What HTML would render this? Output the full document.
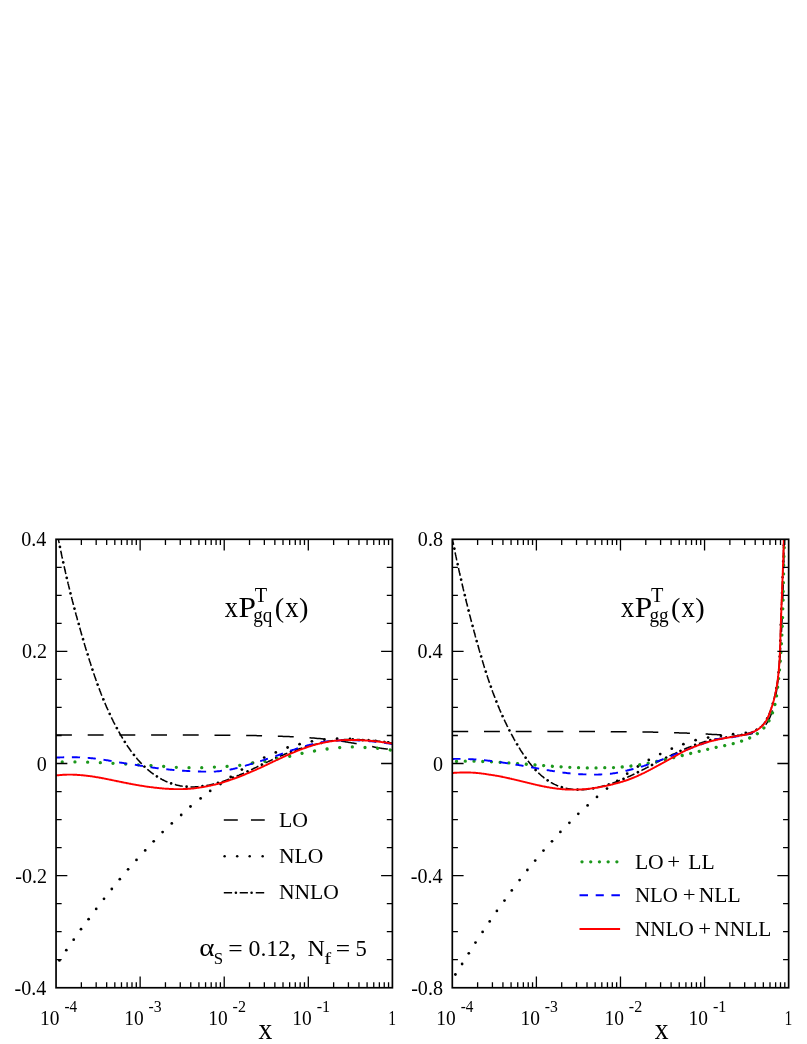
<!DOCTYPE html>
<html><head><meta charset="utf-8"><title>xP(x)</title>
<style>html,body{margin:0;padding:0;background:#fff;}svg{display:block;will-change:transform;}text{font-family:'Liberation Serif', serif;fill:#000;}</style></head><body>
<svg width="807" height="1044" viewBox="0 0 807 1044">
<rect width="807" height="1044" fill="#fff"/>
<defs>
<clipPath id="cl"><rect x="56.05" y="539.3" width="336.35" height="448.45"/></clipPath>
<clipPath id="cr"><rect x="452.3" y="539.3" width="336.35" height="448.45"/></clipPath>
</defs>
<g clip-path="url(#cl)" fill="none">
<path d="M56 735 57 735 58 735 59 735 60 735 61 735 62 735 63 735 64 735 65 735 66 735 67 735 68 735 69 735 70 735 71 735 72 735 73 735 74 735 75 735 76 735 77 735 78 735 79 735 80 735 81 735 82 735 83 735 84 735 85 735 86 735 87 735 88 735 89 735 90 735 91 735 92 735 93 735 94 735 95 735 96 735 97 735 98 735 99 735 100 735 101 735 102 735 103 735 104 735 105 735 106 735 107 735 108 735 109 735 110 735 111 735 112 735 113 735 114 735 115 735 116 735 117 735 118 735 119 735 120 735 121 735 122 735 123 735 124 735 125 735 126 735 127 735 128.1 735 129.1 735 130.1 735 131.1 735 132.1 735 133.1 735 134.1 735 135.1 735 136.1 735 137.1 735 138.1 735 139.1 735 140.1 735 141.1 735 142.1 735 143.1 735 144.1 735 145.1 735 146.1 735 147.1 735 148.1 735 149.1 735 150.1 735 151.1 735 152.1 735 153.1 735 154.1 735 155.1 735 156.1 735 157.1 735 158.1 735 159.1 735 160.1 735 161.1 735 162.1 735 163.1 735 164.1 735 165.1 735 166.1 735 167.1 735 168.1 735 169.1 735 170.1 735 171.1 735 172.1 735 173.1 735 174.1 735 175.1 735 176.1 735.1 177.1 735.1 178.1 735.1 179.1 735.1 180.1 735.1 181.1 735.1 182.1 735.1 183.1 735.1 184.1 735.1 185.1 735.1 186.1 735.1 187.1 735.1 188.1 735.1 189.1 735.1 190.1 735.1 191.1 735.1 192.1 735.1 193.1 735.1 194.1 735.1 195.1 735.1 196.1 735.1 197.1 735.1 198.1 735.1 199.1 735.1 200.1 735.1 201.1 735.1 202.1 735.1 203.1 735.1 204.1 735.1 205.1 735.1 206.1 735.1 207.1 735.2 208.1 735.2 209.1 735.2 210.1 735.2 211.1 735.2 212.1 735.2 213.1 735.2 214.1 735.2 215.1 735.2 216.1 735.2 217.1 735.2 218.1 735.2 219.1 735.2 220.1 735.2 221.1 735.2 222.1 735.2 223.1 735.3 224.1 735.3 225.1 735.3 226.1 735.3 227.1 735.3 228.1 735.3 229.1 735.3 230.1 735.3 231.1 735.3 232.1 735.3 233.1 735.3 234.1 735.3 235.1 735.4 236.1 735.4 237.1 735.4 238.1 735.4 239.1 735.4 240.1 735.4 241.1 735.4 242.1 735.4 243.1 735.4 244.1 735.5 245.1 735.5 246.1 735.5 247.1 735.5 248.1 735.5 249.1 735.5 250.1 735.5 251.1 735.6 252.1 735.6 253.1 735.6 254.1 735.6 255.1 735.6 256.1 735.6 257.1 735.7 258.1 735.7 259.1 735.7 260.1 735.7 261.1 735.7 262.1 735.8 263.1 735.8 264.1 735.8 265.1 735.8 266.1 735.9 267.1 735.9 268.1 735.9 269.1 735.9 270.1 736 271.1 736 272.1 736 273.1 736 274.1 736.1 275.1 736.1 276.1 736.1 277.1 736.2 278.1 736.2 279.1 736.2 280.1 736.3 281.1 736.3 282.1 736.3 283.1 736.4 284.1 736.4 285.1 736.4 286.1 736.5 287.1 736.5 288.1 736.6 289.1 736.6 290.1 736.7 291.1 736.7 292.1 736.7 293.1 736.8 294.1 736.8 295.1 736.9 296.1 736.9 297.1 737 298.1 737 299.1 737.1 300.1 737.2 301.1 737.2 302.1 737.3 303.1 737.3 304.1 737.4 305.1 737.5 306.1 737.5 307.1 737.6 308.1 737.7 309.1 737.7 310.1 737.8 311.1 737.9 312.1 738 313.1 738 314.1 738.1 315.1 738.2 316.1 738.3 317.1 738.4 318.1 738.5 319.1 738.5 320.1 738.6 321.1 738.7 322.1 738.8 323.1 738.9 324.1 739 325.1 739.1 326.1 739.2 327.1 739.3 328.1 739.5 329.1 739.6 330.1 739.7 331.1 739.8 332.1 739.9 333.1 740 334.1 740.2 335.1 740.3 336.1 740.4 337.1 740.6 338.1 740.7 339.1 740.8 340.1 741 341.1 741.1 342.1 741.3 343.1 741.4 344.1 741.6 345.1 741.7 346.1 741.9 347.1 742 348.1 742.2 349.1 742.4 350.1 742.5 351.1 742.7 352.1 742.9 353.1 743 354.1 743.2 355.1 743.4 356.1 743.6 357.1 743.8 358.1 743.9 359.1 744.1 360.1 744.3 361.1 744.5 362.1 744.7 363.1 744.9 364.1 745.1 365.1 745.3 366.1 745.5 367.1 745.7 368.1 745.9 369.1 746.1 370.1 746.3 371.1 746.5 372.1 746.6 373.1 746.8 374.1 747 375.1 747.2 376.1 747.4 377.1 747.6 378.1 747.7 379.1 747.9 380.1 748.1 381.1 748.2 382.1 748.4 383.1 748.5 384.1 748.7 385.1 748.8 386.1 748.9 387.1 749 388.1 749.1 389.1 749.1 390.1 749.2 391.1 749.2 392.1 749.2" stroke="#000" stroke-width="1.5" stroke-dasharray="15.9 15.8"/>
<g fill="#000" stroke="none"><circle cx="59.4" cy="960.4" r="1.38"/><circle cx="66.3" cy="950.2" r="1.38"/><circle cx="73.7" cy="939.7" r="1.38"/><circle cx="81" cy="929.2" r="1.38"/><circle cx="88.6" cy="919.2" r="1.38"/><circle cx="96.2" cy="908.9" r="1.38"/><circle cx="104" cy="898.8" r="1.38"/><circle cx="111.8" cy="889" r="1.38"/><circle cx="119.8" cy="879.2" r="1.38"/><circle cx="128.1" cy="869.3" r="1.38"/><circle cx="136.5" cy="859.9" r="1.38"/><circle cx="145.2" cy="850.4" r="1.38"/><circle cx="153.7" cy="841.3" r="1.38"/><circle cx="162.6" cy="832.1" r="1.38"/><circle cx="171.8" cy="823.4" r="1.38"/><circle cx="181.2" cy="815" r="1.38"/><circle cx="190.5" cy="806.5" r="1.38"/><circle cx="200.6" cy="798.4" r="1.38"/><circle cx="210.2" cy="790.9" r="1.38"/><circle cx="220.5" cy="784" r="1.38"/><circle cx="230.7" cy="777" r="1.38"/><circle cx="241.9" cy="769.6" r="1.38"/><circle cx="253" cy="762.9" r="1.38"/><circle cx="264.2" cy="757.6" r="1.38"/><circle cx="275.8" cy="752.4" r="1.38"/><circle cx="287.6" cy="747.5" r="1.38"/><circle cx="299.6" cy="744.2" r="1.38"/><circle cx="311.9" cy="741.3" r="1.38"/><circle cx="324.4" cy="739.7" r="1.38"/><circle cx="337.1" cy="738.6" r="1.38"/><circle cx="350" cy="739" r="1.38"/><circle cx="362.8" cy="740.2" r="1.38"/><circle cx="375.5" cy="741" r="1.38"/><circle cx="388.2" cy="742.5" r="1.38"/></g>
<path d="M56.1 527 56.2 527.7 56.3 528.4 56.4 529.1 56.6 529.7 56.7 530.4 56.8 531.1 57 531.8 57.1 532.5 57.2 533.2 57.3 533.8 57.5 534.5 57.6 535.2 57.7 535.9 57.9 536.6 58 537.3 58.1 537.9 58.3 538.6 58.4 539.3 58.5 540 58.7 540.7 58.8 541.4 59 542.1 59.1 542.7 59.2 543.4 59.4 544.1 59.5 544.8 59.6 545.5 59.8 546.2 59.9 546.8 60.1 547.5 60.2 548.2 60.3 548.9 60.5 549.6 60.6 550.3 60.8 551 60.9 551.6 61.1 552.3 61.2 553 61.4 553.7 61.5 554.4 61.6 555.1 61.8 555.8 61.9 556.4 62.1 557.1 62.2 557.8 62.4 558.5 62.5 559.2 62.7 559.9 62.8 560.6 63 561.2 63.1 561.9 63.3 562.6 63.4 563.3 63.6 564 63.7 564.7 63.9 565.4 64 566 64.2 566.7 64.4 567.4 64.5 568.1 64.7 568.8 64.8 569.5 65 570.2 65.1 570.8 65.3 571.5 65.4 572.2 65.6 572.9 65.8 573.6 65.9 574.3 66.1 575 66.2 575.6 66.4 576.3 66.6 577 66.7 577.7 66.9 578.4 67 579.1 67.2 579.7 67.4 580.4 67.5 581.1 67.7 581.8 67.9 582.5 68 583.2 68.2 583.9 68.4 584.5 68.5 585.2 68.7 585.9 68.9 586.6 69 587.3 69.2 588 69.4 588.6 69.5 589.3 69.7 590 69.9 590.7 70 591.4 70.2 592.1 70.4 592.7 70.5 593.4 70.7 594.1 70.9 594.8 71.1 595.5 71.2 596.2 71.4 596.8 71.6 597.5 71.7 598.2 71.9 598.9 72.1 599.6 72.3 600.2 72.4 600.9 72.6 601.6 72.8 602.3 73 603 73.2 603.7 73.3 604.3 73.5 605 73.7 605.7 73.9 606.4 74 607.1 74.2 607.7 74.4 608.4 74.6 609.1 74.8 609.8 74.9 610.5 75.1 611.1 75.3 611.8 75.5 612.5 75.7 613.2 75.9 613.9 76 614.5 76.2 615.2 76.4 615.9 76.6 616.6 76.8 617.2 77 617.9 77.2 618.6 77.3 619.3 77.5 620 77.7 620.6 77.9 621.3 78.1 622 78.3 622.7 78.5 623.3 78.7 624 78.8 624.7 79 625.4 79.2 626 79.4 626.7 79.6 627.4 79.8 628.1 80 628.7 80.2 629.4 80.4 630.1 80.6 630.8 80.8 631.4 81 632.1 81.2 632.8 81.3 633.5 81.5 634.1 81.7 634.8 81.9 635.5 82.1 636.1 82.3 636.8 82.5 637.5 82.7 638.2 82.9 638.8 83.1 639.5 83.3 640.2 83.5 640.8 83.7 641.5 83.9 642.2 84.1 642.9 84.3 643.5 84.5 644.2 84.7 644.9 84.9 645.5 85.1 646.2 85.3 646.9 85.5 647.5 85.7 648.2 85.9 648.9 86.1 649.5 86.3 650.2 86.5 650.9 86.7 651.5 86.9 652.2 87.1 652.9 87.3 653.5 87.6 654.2 87.8 654.9 88 655.5 88.2 656.2 88.4 656.9 88.6 657.5 88.8 658.2 89 658.8 89.2 659.5 89.4 660.2 89.6 660.8 89.8 661.5 90.1 662.1 90.3 662.8 90.5 663.5 90.7 664.1 90.9 664.8 91.1 665.5 91.3 666.1 91.5 666.8 91.8 667.4 92 668.1 92.2 668.7 92.4 669.4 92.6 670.1 92.8 670.7 93.1 671.4 93.3 672 93.5 672.7 93.7 673.3 93.9 674 94.2 674.7 94.4 675.3 94.6 676 94.8 676.6 95.1 677.3 95.3 677.9 95.5 678.6 95.8 679.2 96 679.9 96.2 680.5 96.4 681.2 96.7 681.8 96.9 682.5 97.1 683.2 97.4 683.8 97.6 684.5 97.9 685.1 98.1 685.8 98.3 686.4 98.6 687.1 98.8 687.7 99.1 688.4 99.3 689 99.5 689.7 99.8 690.3 100 691 100.3 691.6 100.5 692.2 100.8 692.9 101 693.5 101.3 694.2 101.5 694.8 101.8 695.5 102.1 696.1 102.3 696.8 102.6 697.4 102.8 698.1 103.1 698.7 103.4 699.4 103.6 700 103.9 700.6 104.2 701.3 104.4 701.9 104.7 702.6 105 703.2 105.2 703.9 105.5 704.5 105.8 705.1 106.1 705.8 106.3 706.4 106.6 707.1 106.9 707.7 107.2 708.4 107.5 709 107.8 709.6 108.1 710.3 108.3 710.9 108.6 711.6 108.9 712.2 109.2 712.8 109.5 713.5 109.8 714.1 110.1 714.8 110.4 715.4 110.7 716 111 716.7 111.3 717.3 111.6 717.9 111.9 718.6 112.3 719.2 112.6 719.8 112.9 720.5 113.2 721.1 113.5 721.8 113.8 722.4 114.2 723 114.5 723.7 114.8 724.3 115.1 724.9 115.5 725.6 115.8 726.2 116.1 726.8 116.5 727.5 116.8 728.1 117.2 728.7 117.5 729.4 117.8 730 118.2 730.6 118.5 731.3 118.9 731.9 119.2 732.5 119.6 733.1 119.9 733.8 120.3 734.4 120.7 735 121 735.7 121.4 736.3 121.8 736.9 122.1 737.5 122.5 738.1 122.9 738.8 123.3 739.4 123.6 740 124 740.6 124.4 741.2 124.8 741.8 125.2 742.5 125.6 743.1 125.9 743.7 126.3 744.3 126.7 744.9 127.1 745.5 127.5 746.1 127.9 746.7 128.4 747.3 128.8 747.9 129.2 748.5 129.6 749.1 130 749.6 130.4 750.2 130.8 750.8 131.3 751.4 131.7 752 132.1 752.5 132.6 753.1 133 753.7 133.4 754.3 133.9 754.8 134.3 755.4 134.8 755.9 135.2 756.5 135.6 757 136.1 757.6 136.6 758.1 137 758.7 137.5 759.2 137.9 759.8 138.4 760.3 138.9 760.8 139.3 761.3 139.8 761.9 140.3 762.4 140.8 762.9 141.3 763.4 141.7 763.9 142.2 764.4 142.7 764.9 143.2 765.4 143.7 765.9 144.2 766.4 144.7 766.9 145.2 767.3 145.7 767.8 146.3 768.3 146.8 768.7 147.3 769.2 147.8 769.7 148.3 770.1 148.9 770.6 149.4 771 149.9 771.4 150.5 771.9 151 772.3 151.5 772.7 152.1 773.1 152.6 773.5 153.2 773.9 153.8 774.3 154.3 774.7 154.9 775.1 155.4 775.5 156 775.9 156.6 776.3 157.2 776.6 157.7 777 158.3 777.4 158.9 777.7 159.5 778 160.1 778.4 160.7 778.7 161.3 779 161.9 779.4 162.5 779.7 163.1 780 163.7 780.3 164.3 780.6 164.9 780.9 165.5 781.2 166.2 781.4 166.8 781.7 167.4 782 168 782.2 168.7 782.5 169.3 782.7 169.9 783 170.6 783.2 171.2 783.4 171.9 783.6 172.5 783.9 173.2 784.1 173.8 784.3 174.4 784.5 175.1 784.6 175.8 784.8 176.4 785 177.1 785.2 177.7 785.3 178.4 785.5 179.1 785.6 179.7 785.7 180.4 785.9 181.1 786 181.7 786.1 182.4 786.2 183.1 786.3 183.7 786.4 184.4 786.5 185.1 786.6 185.8 786.6 186.4 786.7 187.1 786.7 187.8 786.8 188.5 786.8 189.2 786.9 189.9 786.9 190.5 786.9 191.2 786.9 191.9 786.9 192.6 786.9 193.3 786.9 194 786.9 194.7 786.9 195.3 786.8 196 786.8 196.7 786.8 197.4 786.7 198.1 786.7 198.8 786.6 199.5 786.5 200.2 786.5 200.9 786.4 201.6 786.3 202.2 786.2 202.9 786.1 203.6 786 204.3 785.9 205 785.8 205.7 785.7 206.4 785.6 207.1 785.5 207.8 785.3 208.5 785.2 209.1 785.1 209.8 784.9 210.5 784.8 211.2 784.6 211.9 784.5 212.6 784.3 213.3 784.1 213.9 784 214.6 783.8 215.3 783.6 216 783.4 216.7 783.2 217.3 783 218 782.8 218.7 782.6 219.4 782.4 220 782.2 220.7 782 221.4 781.8 222.1 781.6 222.7 781.4 223.4 781.2 224.1 780.9 224.7 780.7 225.4 780.5 226.1 780.2 226.7 780 227.4 779.7 228 779.5 228.7 779.3 229.4 779 230 778.8 230.7 778.5 231.3 778.3 232 778 232.7 777.7 233.3 777.5 234 777.2 234.6 777 235.3 776.7 235.9 776.4 236.6 776.2 237.2 775.9 237.9 775.6 238.5 775.4 239.2 775.1 239.8 774.8 240.5 774.5 241.1 774.2 241.8 774 242.4 773.7 243.1 773.4 243.7 773.1 244.4 772.8 245 772.5 245.7 772.2 246.3 771.9 247 771.6 247.6 771.3 248.3 771 248.9 770.7 249.5 770.4 250.2 770.2 250.8 769.9 251.5 769.6 252.1 769.3 252.8 769 253.4 768.6 254 768.3 254.7 768 255.3 767.7 256 767.4 256.6 767.1 257.3 766.8 257.9 766.5 258.5 766.2 259.2 765.9 259.8 765.6 260.5 765.3 261.1 765 261.7 764.7 262.4 764.4 263 764.1 263.7 763.7 264.3 763.4 264.9 763.1 265.6 762.8 266.2 762.5 266.9 762.2 267.5 761.9 268.2 761.6 268.8 761.3 269.4 761 270.1 760.7 270.7 760.4 271.4 760.1 272 759.8 272.7 759.5 273.3 759.2 274 758.9 274.6 758.6 275.2 758.3 275.9 758 276.5 757.7 277.2 757.4 277.8 757.1 278.5 756.9 279.1 756.6 279.8 756.3 280.4 756 281.1 755.7 281.7 755.5 282.4 755.2 283 754.9 283.7 754.7 284.3 754.4 285 754.1 285.6 753.9 286.3 753.6 286.9 753.4 287.6 753.1 288.3 752.8 288.9 752.6 289.6 752.3 290.2 752.1 290.9 751.8 291.5 751.6 292.2 751.4 292.8 751.1 293.5 750.9 294.2 750.6 294.8 750.4 295.5 750.2 296.1 749.9 296.8 749.7 297.5 749.5 298.1 749.3 298.8 749.1 299.4 748.8 300.1 748.6 300.8 748.4 301.4 748.2 302.1 748 302.8 747.8 303.4 747.6 304.1 747.4 304.7 747.2 305.4 747 306.1 746.8 306.7 746.6 307.4 746.4 308.1 746.2 308.7 746 309.4 745.8 310.1 745.7 310.7 745.5 311.4 745.3 312.1 745.1 312.8 745 313.4 744.8 314.1 744.6 314.8 744.5 315.4 744.3 316.1 744.2 316.8 744 317.5 743.9 318.2 743.8 318.9 743.6 319.5 743.5 320.2 743.3 320.9 743.1 321.6 742.9 322.2 742.7 322.9 742.5 323.6 742.4 324.3 742.2 324.9 742 325.6 741.9 326.3 741.7 327 741.5 327.6 741.4 328.3 741.3 329 741.2 329.7 741 330.4 740.9 331.1 740.8 331.7 740.7 332.4 740.7 333.1 740.6 333.8 740.5 334.5 740.4 335.2 740.3 335.9 740.2 336.5 740.2 337.2 740.1 337.9 740 338.6 740 339.3 739.9 340 739.9 340.7 739.8 341.4 739.8 342.1 739.7 342.8 739.7 343.5 739.7 344.2 739.6 344.8 739.6 345.5 739.6 346.2 739.5 346.9 739.5 347.6 739.5 348.3 739.5 349 739.5 349.7 739.5 350.4 739.5 351.1 739.4 351.8 739.4 352.5 739.4 353.2 739.5 353.9 739.5 354.6 739.5 355.3 739.5 356 739.5 356.7 739.5 357.4 739.5 358.1 739.6 358.8 739.6 359.5 739.6 360.2 739.7 360.9 739.7 361.6 739.7 362.3 739.8 363 739.8 363.7 739.9 364.4 739.9 365.1 740 365.8 740 366.5 740.1 367.2 740.1 367.9 740.2 368.6 740.2 369.3 740.3 370 740.3 370.7 740.4 371.4 740.4 372.1 740.5 372.8 740.6 373.5 740.6 374.2 740.7 374.9 740.8 375.6 740.9 376.3 740.9 377 741 377.7 741.1 378.4 741.2 379.1 741.3 379.8 741.3 380.5 741.4 381.2 741.5 381.9 741.6 382.6 741.7 383.3 741.8 384 741.9 384.7 742 385.4 742.1 386.1 742.2 386.8 742.3 387.5 742.4 388.2 742.5 388.9 742.6 389.6 742.7 390.3 742.8 391 742.9 391.7 743.1 392.4 743.2" stroke="#000" stroke-width="1.55" stroke-dasharray="8.1 7.8" stroke-dashoffset="7.61"/>
<path d="M56.1 527 56.2 527.7 56.3 528.4 56.4 529.1 56.6 529.7 56.7 530.4 56.8 531.1 57 531.8 57.1 532.5 57.2 533.2 57.3 533.8 57.5 534.5 57.6 535.2 57.7 535.9 57.9 536.6 58 537.3 58.1 537.9 58.3 538.6 58.4 539.3 58.5 540 58.7 540.7 58.8 541.4 59 542.1 59.1 542.7 59.2 543.4 59.4 544.1 59.5 544.8 59.6 545.5 59.8 546.2 59.9 546.8 60.1 547.5 60.2 548.2 60.3 548.9 60.5 549.6 60.6 550.3 60.8 551 60.9 551.6 61.1 552.3 61.2 553 61.4 553.7 61.5 554.4 61.6 555.1 61.8 555.8 61.9 556.4 62.1 557.1 62.2 557.8 62.4 558.5 62.5 559.2 62.7 559.9 62.8 560.6 63 561.2 63.1 561.9 63.3 562.6 63.4 563.3 63.6 564 63.7 564.7 63.9 565.4 64 566 64.2 566.7 64.4 567.4 64.5 568.1 64.7 568.8 64.8 569.5 65 570.2 65.1 570.8 65.3 571.5 65.4 572.2 65.6 572.9 65.8 573.6 65.9 574.3 66.1 575 66.2 575.6 66.4 576.3 66.6 577 66.7 577.7 66.9 578.4 67 579.1 67.2 579.7 67.4 580.4 67.5 581.1 67.7 581.8 67.9 582.5 68 583.2 68.2 583.9 68.4 584.5 68.5 585.2 68.7 585.9 68.9 586.6 69 587.3 69.2 588 69.4 588.6 69.5 589.3 69.7 590 69.9 590.7 70 591.4 70.2 592.1 70.4 592.7 70.5 593.4 70.7 594.1 70.9 594.8 71.1 595.5 71.2 596.2 71.4 596.8 71.6 597.5 71.7 598.2 71.9 598.9 72.1 599.6 72.3 600.2 72.4 600.9 72.6 601.6 72.8 602.3 73 603 73.2 603.7 73.3 604.3 73.5 605 73.7 605.7 73.9 606.4 74 607.1 74.2 607.7 74.4 608.4 74.6 609.1 74.8 609.8 74.9 610.5 75.1 611.1 75.3 611.8 75.5 612.5 75.7 613.2 75.9 613.9 76 614.5 76.2 615.2 76.4 615.9 76.6 616.6 76.8 617.2 77 617.9 77.2 618.6 77.3 619.3 77.5 620 77.7 620.6 77.9 621.3 78.1 622 78.3 622.7 78.5 623.3 78.7 624 78.8 624.7 79 625.4 79.2 626 79.4 626.7 79.6 627.4 79.8 628.1 80 628.7 80.2 629.4 80.4 630.1 80.6 630.8 80.8 631.4 81 632.1 81.2 632.8 81.3 633.5 81.5 634.1 81.7 634.8 81.9 635.5 82.1 636.1 82.3 636.8 82.5 637.5 82.7 638.2 82.9 638.8 83.1 639.5 83.3 640.2 83.5 640.8 83.7 641.5 83.9 642.2 84.1 642.9 84.3 643.5 84.5 644.2 84.7 644.9 84.9 645.5 85.1 646.2 85.3 646.9 85.5 647.5 85.7 648.2 85.9 648.9 86.1 649.5 86.3 650.2 86.5 650.9 86.7 651.5 86.9 652.2 87.1 652.9 87.3 653.5 87.6 654.2 87.8 654.9 88 655.5 88.2 656.2 88.4 656.9 88.6 657.5 88.8 658.2 89 658.8 89.2 659.5 89.4 660.2 89.6 660.8 89.8 661.5 90.1 662.1 90.3 662.8 90.5 663.5 90.7 664.1 90.9 664.8 91.1 665.5 91.3 666.1 91.5 666.8 91.8 667.4 92 668.1 92.2 668.7 92.4 669.4 92.6 670.1 92.8 670.7 93.1 671.4 93.3 672 93.5 672.7 93.7 673.3 93.9 674 94.2 674.7 94.4 675.3 94.6 676 94.8 676.6 95.1 677.3 95.3 677.9 95.5 678.6 95.8 679.2 96 679.9 96.2 680.5 96.4 681.2 96.7 681.8 96.9 682.5 97.1 683.2 97.4 683.8 97.6 684.5 97.9 685.1 98.1 685.8 98.3 686.4 98.6 687.1 98.8 687.7 99.1 688.4 99.3 689 99.5 689.7 99.8 690.3 100 691 100.3 691.6 100.5 692.2 100.8 692.9 101 693.5 101.3 694.2 101.5 694.8 101.8 695.5 102.1 696.1 102.3 696.8 102.6 697.4 102.8 698.1 103.1 698.7 103.4 699.4 103.6 700 103.9 700.6 104.2 701.3 104.4 701.9 104.7 702.6 105 703.2 105.2 703.9 105.5 704.5 105.8 705.1 106.1 705.8 106.3 706.4 106.6 707.1 106.9 707.7 107.2 708.4 107.5 709 107.8 709.6 108.1 710.3 108.3 710.9 108.6 711.6 108.9 712.2 109.2 712.8 109.5 713.5 109.8 714.1 110.1 714.8 110.4 715.4 110.7 716 111 716.7 111.3 717.3 111.6 717.9 111.9 718.6 112.3 719.2 112.6 719.8 112.9 720.5 113.2 721.1 113.5 721.8 113.8 722.4 114.2 723 114.5 723.7 114.8 724.3 115.1 724.9 115.5 725.6 115.8 726.2 116.1 726.8 116.5 727.5 116.8 728.1 117.2 728.7 117.5 729.4 117.8 730 118.2 730.6 118.5 731.3 118.9 731.9 119.2 732.5 119.6 733.1 119.9 733.8 120.3 734.4 120.7 735 121 735.7 121.4 736.3 121.8 736.9 122.1 737.5 122.5 738.1 122.9 738.8 123.3 739.4 123.6 740 124 740.6 124.4 741.2 124.8 741.8 125.2 742.5 125.6 743.1 125.9 743.7 126.3 744.3 126.7 744.9 127.1 745.5 127.5 746.1 127.9 746.7 128.4 747.3 128.8 747.9 129.2 748.5 129.6 749.1 130 749.6 130.4 750.2 130.8 750.8 131.3 751.4 131.7 752 132.1 752.5 132.6 753.1 133 753.7 133.4 754.3 133.9 754.8 134.3 755.4 134.8 755.9 135.2 756.5 135.6 757 136.1 757.6 136.6 758.1 137 758.7 137.5 759.2 137.9 759.8 138.4 760.3 138.9 760.8 139.3 761.3 139.8 761.9 140.3 762.4 140.8 762.9 141.3 763.4 141.7 763.9 142.2 764.4 142.7 764.9 143.2 765.4 143.7 765.9 144.2 766.4 144.7 766.9 145.2 767.3 145.7 767.8 146.3 768.3 146.8 768.7 147.3 769.2 147.8 769.7 148.3 770.1 148.9 770.6 149.4 771 149.9 771.4 150.5 771.9 151 772.3 151.5 772.7 152.1 773.1 152.6 773.5 153.2 773.9 153.8 774.3 154.3 774.7 154.9 775.1 155.4 775.5 156 775.9 156.6 776.3 157.2 776.6 157.7 777 158.3 777.4 158.9 777.7 159.5 778 160.1 778.4 160.7 778.7 161.3 779 161.9 779.4 162.5 779.7 163.1 780 163.7 780.3 164.3 780.6 164.9 780.9 165.5 781.2 166.2 781.4 166.8 781.7 167.4 782 168 782.2 168.7 782.5 169.3 782.7 169.9 783 170.6 783.2 171.2 783.4 171.9 783.6 172.5 783.9 173.2 784.1 173.8 784.3 174.4 784.5 175.1 784.6 175.8 784.8 176.4 785 177.1 785.2 177.7 785.3 178.4 785.5 179.1 785.6 179.7 785.7 180.4 785.9 181.1 786 181.7 786.1 182.4 786.2 183.1 786.3 183.7 786.4 184.4 786.5 185.1 786.6 185.8 786.6 186.4 786.7 187.1 786.7 187.8 786.8 188.5 786.8 189.2 786.9 189.9 786.9 190.5 786.9 191.2 786.9 191.9 786.9 192.6 786.9 193.3 786.9 194 786.9 194.7 786.9 195.3 786.8 196 786.8 196.7 786.8 197.4 786.7 198.1 786.7 198.8 786.6 199.5 786.5 200.2 786.5 200.9 786.4 201.6 786.3 202.2 786.2 202.9 786.1 203.6 786 204.3 785.9 205 785.8 205.7 785.7 206.4 785.6 207.1 785.5 207.8 785.3 208.5 785.2 209.1 785.1 209.8 784.9 210.5 784.8 211.2 784.6 211.9 784.5 212.6 784.3 213.3 784.1 213.9 784 214.6 783.8 215.3 783.6 216 783.4 216.7 783.2 217.3 783 218 782.8 218.7 782.6 219.4 782.4 220 782.2 220.7 782 221.4 781.8 222.1 781.6 222.7 781.4 223.4 781.2 224.1 780.9 224.7 780.7 225.4 780.5 226.1 780.2 226.7 780 227.4 779.7 228 779.5 228.7 779.3 229.4 779 230 778.8 230.7 778.5 231.3 778.3 232 778 232.7 777.7 233.3 777.5 234 777.2 234.6 777 235.3 776.7 235.9 776.4 236.6 776.2 237.2 775.9 237.9 775.6 238.5 775.4 239.2 775.1 239.8 774.8 240.5 774.5 241.1 774.2 241.8 774 242.4 773.7 243.1 773.4 243.7 773.1 244.4 772.8 245 772.5 245.7 772.2 246.3 771.9 247 771.6 247.6 771.3 248.3 771 248.9 770.7 249.5 770.4 250.2 770.2 250.8 769.9 251.5 769.6 252.1 769.3 252.8 769 253.4 768.6 254 768.3 254.7 768 255.3 767.7 256 767.4 256.6 767.1 257.3 766.8 257.9 766.5 258.5 766.2 259.2 765.9 259.8 765.6 260.5 765.3 261.1 765 261.7 764.7 262.4 764.4 263 764.1 263.7 763.7 264.3 763.4 264.9 763.1 265.6 762.8 266.2 762.5 266.9 762.2 267.5 761.9 268.2 761.6 268.8 761.3 269.4 761 270.1 760.7 270.7 760.4 271.4 760.1 272 759.8 272.7 759.5 273.3 759.2 274 758.9 274.6 758.6 275.2 758.3 275.9 758 276.5 757.7 277.2 757.4 277.8 757.1 278.5 756.9 279.1 756.6 279.8 756.3 280.4 756 281.1 755.7 281.7 755.5 282.4 755.2 283 754.9 283.7 754.7 284.3 754.4 285 754.1 285.6 753.9 286.3 753.6 286.9 753.4 287.6 753.1 288.3 752.8 288.9 752.6 289.6 752.3 290.2 752.1 290.9 751.8 291.5 751.6 292.2 751.4 292.8 751.1 293.5 750.9 294.2 750.6 294.8 750.4 295.5 750.2 296.1 749.9 296.8 749.7 297.5 749.5 298.1 749.3 298.8 749.1 299.4 748.8 300.1 748.6 300.8 748.4 301.4 748.2 302.1 748 302.8 747.8 303.4 747.6 304.1 747.4 304.7 747.2 305.4 747 306.1 746.8 306.7 746.6 307.4 746.4 308.1 746.2 308.7 746 309.4 745.8 310.1 745.7 310.7 745.5 311.4 745.3 312.1 745.1 312.8 745 313.4 744.8 314.1 744.6 314.8 744.5 315.4 744.3 316.1 744.2 316.8 744 317.5 743.9 318.2 743.8 318.9 743.6 319.5 743.5 320.2 743.3 320.9 743.1 321.6 742.9 322.2 742.7 322.9 742.5 323.6 742.4 324.3 742.2 324.9 742 325.6 741.9 326.3 741.7 327 741.5 327.6 741.4 328.3 741.3 329 741.2 329.7 741 330.4 740.9 331.1 740.8 331.7 740.7 332.4 740.7 333.1 740.6 333.8 740.5 334.5 740.4 335.2 740.3 335.9 740.2 336.5 740.2 337.2 740.1 337.9 740 338.6 740 339.3 739.9 340 739.9 340.7 739.8 341.4 739.8 342.1 739.7 342.8 739.7 343.5 739.7 344.2 739.6 344.8 739.6 345.5 739.6 346.2 739.5 346.9 739.5 347.6 739.5 348.3 739.5 349 739.5 349.7 739.5 350.4 739.5 351.1 739.4 351.8 739.4 352.5 739.4 353.2 739.5 353.9 739.5 354.6 739.5 355.3 739.5 356 739.5 356.7 739.5 357.4 739.5 358.1 739.6 358.8 739.6 359.5 739.6 360.2 739.7 360.9 739.7 361.6 739.7 362.3 739.8 363 739.8 363.7 739.9 364.4 739.9 365.1 740 365.8 740 366.5 740.1 367.2 740.1 367.9 740.2 368.6 740.2 369.3 740.3 370 740.3 370.7 740.4 371.4 740.4 372.1 740.5 372.8 740.6 373.5 740.6 374.2 740.7 374.9 740.8 375.6 740.9 376.3 740.9 377 741 377.7 741.1 378.4 741.2 379.1 741.3 379.8 741.3 380.5 741.4 381.2 741.5 381.9 741.6 382.6 741.7 383.3 741.8 384 741.9 384.7 742 385.4 742.1 386.1 742.2 386.8 742.3 387.5 742.4 388.2 742.5 388.9 742.6 389.6 742.7 390.3 742.8 391 742.9 391.7 743.1 392.4 743.2" stroke="#000" stroke-width="2.7" stroke-linecap="round" stroke-dasharray="0.01 15.89" stroke-dashoffset="11.51"/>
<path d="M56 762 56.7 762 57.4 762 58.1 762 58.9 761.9 59.6 761.9 60.3 761.9 61 761.9 61.7 761.9 62.4 761.9 63.1 761.9 63.8 761.9 64.5 761.9 65.2 761.9 65.9 761.9 66.6 761.9 67.3 761.9 68 761.9 68.7 761.9 69.4 761.9 70.1 761.9 70.8 761.9 71.5 761.9 72.2 761.9 72.9 761.9 73.6 761.9 74.3 761.9 75 761.9 75.7 761.9 76.5 762 77.2 762 77.9 762 78.6 762 79.3 762 80 762 80.7 762 81.4 762.1 82.1 762.1 82.8 762.1 83.5 762.1 84.2 762.1 84.9 762.1 85.6 762.2 86.3 762.2 87 762.2 87.7 762.2 88.4 762.3 89.1 762.3 89.8 762.3 90.5 762.3 91.2 762.3 91.9 762.4 92.6 762.4 93.3 762.4 94 762.5 94.7 762.5 95.4 762.5 96.1 762.5 96.8 762.6 97.5 762.6 98.2 762.6 98.9 762.7 99.6 762.7 100.3 762.7 101 762.7 101.7 762.8 102.4 762.8 103.1 762.8 103.8 762.9 104.5 762.9 105.2 762.9 105.9 763 106.6 763 107.3 763.1 108 763.1 108.7 763.1 109.4 763.2 110.1 763.2 110.8 763.2 111.5 763.3 112.2 763.3 112.9 763.3 113.6 763.4 114.3 763.4 115 763.5 115.7 763.5 116.4 763.5 117.1 763.6 117.8 763.6 118.5 763.7 119.2 763.7 119.9 763.7 120.6 763.8 121.3 763.8 122 763.9 122.7 763.9 123.4 763.9 124.1 764 124.8 764 125.5 764.1 126.2 764.1 126.9 764.1 127.6 764.2 128.3 764.2 129 764.3 129.7 764.3 130.4 764.3 131.1 764.4 131.8 764.4 132.5 764.5 133.2 764.5 133.9 764.5 134.6 764.6 135.3 764.6 136 764.7 136.7 764.7 137.4 764.8 138.1 764.8 138.8 764.8 139.5 764.9 140.2 764.9 140.9 765 141.6 765 142.3 765 143 765.1 143.7 765.1 144.4 765.2 145.1 765.2 145.8 765.2 146.5 765.3 147.2 765.3 147.9 765.3 148.6 765.4 149.3 765.4 150 765.5 150.7 765.5 151.4 765.6 152.1 765.6 152.8 765.7 153.5 765.7 154.2 765.8 154.9 765.8 155.6 765.9 156.3 765.9 156.9 766 157.6 766 158.3 766.1 159 766.1 159.7 766.2 160.4 766.2 161.1 766.3 161.8 766.3 162.5 766.4 163.2 766.4 163.9 766.5 164.6 766.5 165.3 766.6 166 766.6 166.7 766.7 167.4 766.7 168.1 766.8 168.8 766.8 169.5 766.9 170.2 766.9 170.9 767 171.6 767 172.3 767.1 173 767.1 173.7 767.2 174.4 767.2 175.1 767.3 175.8 767.3 176.5 767.3 177.2 767.4 177.8 767.4 178.5 767.4 179.2 767.4 179.9 767.4 180.6 767.5 181.3 767.5 182 767.5 182.7 767.5 183.4 767.5 184.1 767.6 184.8 767.6 185.5 767.6 186.2 767.6 186.9 767.6 187.6 767.6 188.3 767.6 189 767.7 189.7 767.7 190.4 767.7 191.1 767.7 191.8 767.7 192.5 767.7 193.2 767.7 193.8 767.7 194.5 767.7 195.2 767.7 195.9 767.7 196.6 767.7 197.3 767.7 198 767.7 198.7 767.7 199.4 767.7 200.1 767.7 200.8 767.7 201.5 767.7 202.2 767.7 202.9 767.7 203.6 767.6 204.3 767.6 205 767.6 205.7 767.6 206.4 767.5 207.1 767.5 207.8 767.5 208.4 767.4 209.1 767.4 209.8 767.4 210.5 767.3 211.2 767.3 211.9 767.2 212.6 767.2 213.3 767.2 214 767.1 214.7 767.1 215.4 767.1 216.1 767 216.8 767 217.5 767 218.2 766.9 218.9 766.9 219.6 766.9 220.3 766.8 220.9 766.8 221.6 766.8 222.3 766.7 223 766.7 223.7 766.6 224.4 766.6 225.1 766.6 225.8 766.5 226.5 766.5 227.2 766.4 227.9 766.4 228.6 766.3 229.3 766.3 230 766.2 230.7 766.1 231.4 766.1 232.1 766 232.8 766 233.4 765.9 234.1 765.8 234.8 765.8 235.5 765.7 236.2 765.6 236.9 765.6 237.6 765.5 238.3 765.4 239 765.4 239.7 765.3 240.4 765.2 241.1 765.1 241.8 765 242.5 764.9 243.2 764.8 243.9 764.7 244.5 764.5 245.2 764.4 245.9 764.3 246.6 764.2 247.3 764.1 248 764 248.7 763.8 249.4 763.7 250.1 763.6 250.8 763.4 251.5 763.3 252.2 763.2 252.9 763.1 253.6 763 254.3 762.9 255 762.8 255.6 762.7 256.3 762.6 257 762.5 257.7 762.5 258.4 762.4 259.1 762.2 259.8 762.1 260.5 762 261.2 761.9 261.9 761.8 262.6 761.7 263.3 761.6 264 761.5 264.7 761.4 265.4 761.3 266.1 761.1 266.7 761 267.4 760.9 268.1 760.7 268.8 760.6 269.5 760.5 270.2 760.3 270.9 760.2 271.6 760.1 272.3 759.9 273 759.8 273.7 759.7 274.4 759.5 275.1 759.4 275.8 759.2 276.5 759.1 277.1 758.9 277.8 758.8 278.5 758.7 279.2 758.5 279.9 758.4 280.6 758.2 281.3 758.1 282 757.9 282.7 757.8 283.4 757.7 284.1 757.5 284.8 757.4 285.5 757.2 286.2 757.1 286.9 756.9 287.6 756.8 288.2 756.6 288.9 756.5 289.6 756.3 290.3 756.2 291 756 291.7 755.8 292.4 755.7 293.1 755.5 293.8 755.3 294.5 755.2 295.2 755 295.9 754.8 296.6 754.7 297.3 754.5 298 754.3 298.6 754.2 299.3 754 300 753.9 300.7 753.7 301.4 753.6 302.1 753.4 302.8 753.3 303.5 753.2 304.2 753 304.9 752.9 305.6 752.7 306.3 752.6 307 752.5 307.7 752.3 308.4 752.2 309 752.1 309.7 751.9 310.4 751.8 311.1 751.7 311.8 751.5 312.5 751.4 313.2 751.3 313.9 751.2 314.6 751 315.3 750.9 316 750.8 316.7 750.7 317.4 750.5 318.1 750.4 318.8 750.3 319.5 750.2 320.1 750.1 320.8 750 321.5 749.9 322.2 749.7 322.9 749.6 323.6 749.5 324.3 749.4 325 749.3 325.7 749.2 326.4 749.1 327.1 749 327.8 748.9 328.5 748.8 329.2 748.7 329.9 748.6 330.6 748.6 331.2 748.5 331.9 748.4 332.6 748.3 333.3 748.2 334 748.1 334.7 748.1 335.4 748 336.1 747.9 336.8 747.8 337.5 747.8 338.2 747.7 338.9 747.6 339.6 747.6 340.3 747.5 341 747.4 341.7 747.4 342.3 747.3 343 747.3 343.7 747.2 344.4 747.2 345.1 747.1 345.8 747.1 346.5 747 347.2 747 347.9 747 348.6 746.9 349.3 746.9 350 746.8 350.7 746.9 351.4 746.9 352.1 746.9 352.8 746.9 353.5 746.9 354.2 746.9 354.8 746.9 355.5 747 356.2 747 356.9 747 357.6 747 358.3 747.1 359 747.1 359.7 747.1 360.4 747.2 361.1 747.2 361.8 747.3 362.5 747.3 363.2 747.4 363.9 747.4 364.6 747.5 365.3 747.5 366 747.5 366.7 747.6 367.3 747.6 368 747.6 368.7 747.6 369.4 747.7 370.1 747.7 370.8 747.7 371.5 747.8 372.2 747.8 372.9 747.9 373.6 747.9 374.3 748 375 748 375.7 748.1 376.4 748.2 377.1 748.2 377.8 748.3 378.5 748.4 379.2 748.4 379.9 748.5 380.6 748.6 381.2 748.7 381.9 748.7 382.6 748.8 383.3 748.9 384 749 384.7 749.1 385.4 749.2 386.1 749.3 386.8 749.4 387.5 749.5 388.2 749.6 388.9 749.7 389.6 749.8 390.3 750 391 750.1 391.7 750.2 392.4 750.3" stroke="#1c981c" stroke-width="3.3" stroke-linecap="round" stroke-dasharray="0.01 12.71" stroke-dashoffset="6.49"/>
<path d="M56 757.6 56.7 757.6 57.4 757.5 58.1 757.5 58.8 757.5 59.6 757.5 60.3 757.4 61 757.4 61.7 757.4 62.4 757.4 63.1 757.4 63.8 757.3 64.5 757.3 65.2 757.3 65.9 757.3 66.6 757.3 67.3 757.3 68 757.3 68.7 757.3 69.4 757.3 70.1 757.2 70.8 757.2 71.5 757.3 72.2 757.3 72.9 757.3 73.6 757.3 74.3 757.3 75 757.3 75.7 757.3 76.4 757.3 77.1 757.3 77.8 757.4 78.5 757.4 79.2 757.4 79.9 757.4 80.6 757.5 81.3 757.5 82 757.5 82.7 757.6 83.4 757.6 84.1 757.6 84.8 757.7 85.5 757.7 86.2 757.8 86.9 757.8 87.6 757.9 88.3 757.9 89 758 89.7 758 90.4 758.1 91.1 758.2 91.8 758.2 92.5 758.3 93.2 758.4 93.9 758.5 94.6 758.5 95.3 758.6 96 758.7 96.7 758.8 97.4 758.9 98.1 759 98.8 759.1 99.5 759.2 100.2 759.3 100.9 759.3 101.6 759.4 102.3 759.6 103 759.7 103.7 759.8 104.4 759.9 105.1 760 105.8 760.1 106.5 760.2 107.2 760.3 107.9 760.4 108.6 760.5 109.2 760.7 109.9 760.8 110.6 760.9 111.3 761 112 761.1 112.7 761.3 113.4 761.4 114.1 761.5 114.8 761.6 115.5 761.7 116.2 761.9 116.9 762 117.6 762.1 118.3 762.3 119 762.4 119.7 762.5 120.4 762.6 121.1 762.7 121.8 762.8 122.5 762.9 123.2 763 123.9 763.1 124.6 763.3 125.3 763.4 126 763.5 126.7 763.6 127.4 763.7 128.1 763.8 128.7 763.9 129.4 764 130.1 764.1 130.8 764.2 131.5 764.3 132.2 764.4 132.9 764.5 133.6 764.6 134.3 764.7 135 764.8 135.7 764.9 136.4 765 137.1 765.1 137.8 765.2 138.5 765.3 139.2 765.5 139.9 765.6 140.6 765.7 141.3 765.8 141.9 765.9 142.6 766 143.3 766.1 144 766.2 144.7 766.3 145.4 766.5 146.1 766.6 146.8 766.7 147.5 766.8 148.2 766.9 148.9 767 149.6 767.1 150.3 767.2 151 767.3 151.7 767.4 152.3 767.5 153 767.6 153.7 767.7 154.4 767.8 155.1 767.9 155.8 768 156.5 768.1 157.2 768.2 157.9 768.2 158.6 768.3 159.3 768.4 160 768.5 160.6 768.6 161.3 768.7 162 768.8 162.7 768.8 163.4 768.9 164.1 769 164.8 769.1 165.5 769.2 166.2 769.2 166.9 769.3 167.6 769.4 168.2 769.5 168.9 769.5 169.6 769.6 170.3 769.7 171 769.7 171.7 769.8 172.4 769.9 173.1 770 173.8 770 174.5 770.1 175.1 770.1 175.8 770.2 176.5 770.3 177.2 770.3 177.9 770.4 178.6 770.4 179.3 770.5 180 770.5 180.7 770.6 181.3 770.6 182 770.7 182.7 770.7 183.4 770.8 184.1 770.8 184.8 770.9 185.5 770.9 186.2 770.9 186.9 771 187.5 771 188.2 771 188.9 771 189.6 771.1 190.3 771.1 191 771.1 191.7 771.2 192.4 771.2 193 771.3 193.7 771.3 194.4 771.3 195.1 771.4 195.8 771.4 196.5 771.4 197.2 771.5 197.8 771.5 198.5 771.5 199.2 771.5 199.9 771.5 200.6 771.5 201.3 771.6 202 771.6 202.6 771.6 203.3 771.6 204 771.6 204.7 771.6 205.4 771.6 206.1 771.6 206.8 771.6 207.4 771.6 208.1 771.7 208.8 771.7 209.5 771.7 210.2 771.7 210.9 771.7 211.6 771.7 212.2 771.7 212.9 771.7 213.6 771.7 214.3 771.6 215 771.6 215.7 771.5 216.3 771.4 217 771.4 217.7 771.3 218.4 771.2 219.1 771.2 219.8 771.1 220.4 771 221.1 770.9 221.8 770.8 222.5 770.8 223.2 770.7 223.9 770.6 224.5 770.5 225.2 770.4 225.9 770.3 226.6 770.2 227.3 770 227.9 769.9 228.6 769.8 229.3 769.7 230 769.6 230.7 769.5 231.3 769.3 232 769.2 232.7 769.1 233.4 768.9 234.1 768.7 234.8 768.6 235.4 768.4 236.1 768.2 236.8 768.1 237.5 767.9 238.2 767.7 238.8 767.5 239.5 767.3 240.2 767.2 240.9 767 241.6 766.8 242.2 766.6 242.9 766.4 243.6 766.2 244.3 766 245 765.8 245.6 765.6 246.3 765.4 247 765.2 247.7 765 248.3 764.8 249 764.6 249.7 764.4 250.4 764.2 251.1 764 251.7 763.8 252.4 763.6 253.1 763.4 253.8 763.2 254.5 763 255.1 762.8 255.8 762.5 256.5 762.3 257.2 762.1 257.8 761.9 258.5 761.7 259.2 761.5 259.9 761.2 260.6 761 261.2 760.8 261.9 760.6 262.6 760.4 263.3 760.1 264 759.9 264.6 759.7 265.3 759.5 266 759.3 266.7 759 267.3 758.8 268 758.6 268.7 758.4 269.4 758.1 270.1 757.9 270.7 757.7 271.4 757.5 272.1 757.3 272.8 757 273.4 756.8 274.1 756.6 274.8 756.4 275.5 756.1 276.2 755.9 276.8 755.7 277.5 755.5 278.2 755.2 278.9 755 279.5 754.7 280.2 754.5 280.9 754.2 281.6 754 282.3 753.7 282.9 753.5 283.6 753.2 284.3 753 285 752.7 285.7 752.5 286.3 752.2 287 752 287.7 751.7 288.4 751.5 289 751.2 289.7 751 290.4 750.7 291.1 750.5 291.8 750.3 292.4 750 293.1 749.8 293.8 749.6 294.5 749.3 295.2 749.1 295.8 748.9 296.5 748.7 297.2 748.4 297.9 748.2 298.5 748 299.2 747.8 299.9 747.5 300.6 747.3 301.3 747.1 301.9 746.9 302.6 746.7 303.3 746.6 304 746.4 304.7 746.2 305.3 746 306 745.8 306.7 745.6 307.4 745.4 308.1 745.2 308.8 745.1 309.4 744.9 310.1 744.7 310.8 744.6 311.5 744.4 312.2 744.2 312.8 744.1 313.5 743.9 314.2 743.7 314.9 743.6 315.6 743.4 316.2 743.3 316.9 743.2 317.6 743 318.3 742.9 319 742.7 319.7 742.6 320.3 742.5 321 742.4 321.7 742.2 322.4 742.1 323.1 742 323.8 741.9 324.4 741.8 325.1 741.7 325.8 741.6 326.5 741.5 327.2 741.4 327.9 741.3 328.5 741.2 329.2 741.1 329.9 741.1 330.6 741 331.3 740.9 332 740.8 332.7 740.8 333.3 740.7 334 740.7 334.7 740.6 335.4 740.6 336.5 740.6 337.2 740.6 337.9 740.5 338.6 740.5 339.3 740.5 340 740.5 340.7 740.4 341.4 740.4 342.1 740.4 342.8 740.4 343.5 740.4 344.2 740.4 344.8 740.4 345.5 740.4 346.2 740.4 346.9 740.4 347.6 740.4 348.3 740.4 349 740.4 349.7 740.4 350.4 740.4 351.1 740.3 351.8 740.3 352.5 740.3 353.2 740.4 353.9 740.4 354.6 740.4 355.3 740.4 356 740.4 356.7 740.4 357.4 740.4 358.1 740.5 358.8 740.5 359.5 740.5 360.2 740.6 360.9 740.6 361.6 740.6 362.3 740.7 363 740.7 363.7 740.8 364.4 740.8 365.1 740.9 365.8 740.9 366.5 741 367.2 741 367.9 741.1 368.6 741.1 369.3 741.2 370 741.2 370.7 741.3 371.4 741.3 372.1 741.4 372.8 741.5 373.5 741.5 374.2 741.6 374.9 741.7 375.6 741.8 376.3 741.8 377 741.9 377.7 742 378.4 742.1 379.1 742.2 379.8 742.2 380.5 742.3 381.2 742.4 381.9 742.5 382.6 742.6 383.3 742.7 384 742.8 384.7 742.9 385.4 743 386.1 743.1 386.8 743.2 387.5 743.3 388.2 743.4 388.9 743.5 389.6 743.6 390.3 743.7 391 743.8 391.7 744 392.4 744.1" stroke="#0000ff" stroke-width="1.9" stroke-dasharray="8.2 7.7"/>
<path d="M56.1 775.5 56.8 775.4 57.4 775.3 58.1 775.2 58.8 775.2 59.5 775.1 60.2 775 60.9 775 61.5 774.9 62.2 774.9 62.9 774.8 63.6 774.8 64.3 774.7 65 774.7 65.6 774.7 66.3 774.7 67 774.6 67.7 774.6 68.4 774.6 69.1 774.6 69.8 774.6 70.4 774.6 71.1 774.6 71.8 774.6 72.5 774.6 73.2 774.7 73.9 774.7 74.6 774.7 75.3 774.7 76 774.8 76.7 774.8 77.3 774.9 78 774.9 78.7 774.9 79.4 775 80.1 775.1 80.8 775.1 81.5 775.2 82.2 775.2 82.9 775.3 83.6 775.4 84.3 775.4 85 775.5 85.7 775.6 86.4 775.7 87.1 775.8 87.8 775.9 88.4 775.9 89.1 776 89.8 776.1 90.5 776.2 91.2 776.3 91.9 776.4 92.6 776.5 93.3 776.6 94 776.7 94.7 776.8 95.4 777 96.1 777.1 96.8 777.2 97.5 777.3 98.2 777.4 98.9 777.5 99.6 777.7 100.3 777.8 101 777.9 101.7 778 102.4 778.2 103.1 778.3 103.8 778.4 104.5 778.6 105.2 778.7 105.9 778.9 106.6 779 107.3 779.1 108 779.3 108.7 779.4 109.4 779.6 110.1 779.7 110.8 779.8 111.5 780 112.2 780.1 112.9 780.3 113.6 780.4 114.3 780.6 115 780.7 115.7 780.9 116.4 781 117.1 781.2 117.8 781.3 118.5 781.4 119.2 781.6 119.9 781.7 120.6 781.9 121.3 782 122.1 782.2 122.8 782.3 123.5 782.5 124.2 782.6 124.9 782.7 125.6 782.9 126.3 783 127 783.2 127.7 783.3 128.4 783.4 129.1 783.6 129.8 783.7 130.5 783.8 131.2 784 131.9 784.1 132.6 784.2 133.3 784.4 134 784.5 134.7 784.6 135.4 784.7 136.1 784.9 136.8 785 137.5 785.1 138.2 785.2 138.9 785.4 139.6 785.5 140.3 785.6 141 785.7 141.7 785.8 142.4 785.9 143.1 786 143.8 786.1 144.5 786.3 145.2 786.4 145.9 786.5 146.6 786.6 147.3 786.7 148 786.8 148.7 786.9 149.4 787 150.1 787.1 150.8 787.1 151.5 787.2 152.2 787.3 152.9 787.4 153.6 787.5 154.3 787.6 155 787.7 155.7 787.7 156.4 787.8 157.1 787.9 157.8 788 158.5 788 159.2 788.1 159.9 788.2 160.6 788.2 161.3 788.3 162 788.4 162.7 788.4 163.4 788.5 164.1 788.6 164.8 788.6 165.5 788.7 166.2 788.7 166.9 788.8 167.6 788.8 168.3 788.8 169 788.9 169.7 788.9 170.4 789 171.1 789 171.7 789 172.4 789 173.1 789 173.8 789.1 174.5 789.1 175.2 789.1 175.9 789.1 176.6 789.1 177.3 789.1 178 789.1 178.7 789.1 179.4 789.1 180 789.1 180.7 789.1 181.4 789.1 182.1 789.1 182.8 789.1 183.5 789 184.2 789 184.9 789 185.6 789 186.2 788.9 186.9 788.9 187.6 788.9 188.3 788.8 189 788.8 189.7 788.8 190.4 788.7 191 788.6 191.7 788.6 192.4 788.5 193.1 788.4 193.8 788.4 194.5 788.3 195.1 788.2 195.8 788.1 196.5 788 197.2 787.9 197.9 787.8 198.5 787.7 199.2 787.6 199.9 787.5 200.6 787.4 201.3 787.3 201.9 787.2 202.6 787.1 203.3 787 204 786.9 204.6 786.7 205.3 786.6 206 786.5 206.7 786.4 207.3 786.2 208 786.1 208.7 785.9 209.3 785.8 210 785.7 210.7 785.5 211.4 785.4 212 785.2 212.7 785.1 213.4 784.9 214 784.8 214.7 784.6 215.4 784.5 216 784.3 216.7 784.1 217.4 784 218 783.8 218.7 783.6 219.4 783.4 220 783.2 220.7 783 221.3 782.8 222 782.7 222.7 782.5 223.3 782.2 224 782 224.6 781.8 225.3 781.6 226 781.4 226.6 781.2 227.3 781 227.9 780.7 228.6 780.5 229.2 780.3 229.9 780 230.5 779.8 231.2 779.6 231.8 779.4 232.5 779.2 233.2 778.9 233.8 778.7 234.5 778.5 235.1 778.2 235.8 778 236.4 777.8 237.1 777.5 237.7 777.3 238.4 777 239 776.8 239.7 776.5 240.3 776.3 241 776 241.6 775.8 242.2 775.5 242.9 775.2 243.5 775 244.2 774.7 244.8 774.5 245.5 774.2 246.1 773.9 246.8 773.6 247.4 773.4 248.1 773.1 248.7 772.8 249.4 772.5 250 772.3 250.6 772 251.3 771.7 251.9 771.4 252.6 771.2 253.2 770.9 253.9 770.6 254.5 770.3 255.1 770.1 255.8 769.8 256.4 769.5 257.1 769.2 257.7 768.9 258.4 768.6 259 768.4 259.6 768.1 260.3 767.8 260.9 767.5 261.6 767.2 262.2 766.9 262.9 766.6 263.5 766.3 264.1 766 264.8 765.7 265.4 765.4 266.1 765.1 266.7 764.8 267.3 764.5 268 764.2 268.6 763.9 269.3 763.6 269.9 763.2 270.6 762.9 271.2 762.6 271.8 762.3 272.5 762 273.1 761.7 273.8 761.4 274.4 761.1 275.1 760.8 275.7 760.5 276.3 760.2 277 759.9 277.6 759.6 278.3 759.3 278.9 759 279.6 758.7 280.2 758.4 280.8 758.1 281.5 757.8 282.1 757.5 282.8 757.2 283.4 756.9 284.1 756.6 284.7 756.3 285.4 756 286 755.7 286.7 755.4 287.3 755.1 288 754.8 288.6 754.5 289.2 754.2 289.9 754 290.5 753.7 291.2 753.4 291.8 753.1 292.5 752.8 293.1 752.6 293.8 752.3 294.4 752 295.1 751.7 295.7 751.5 296.4 751.2 297.1 750.9 297.7 750.7 298.4 750.4 299 750.2 299.7 749.9 300.3 749.7 301 749.4 301.6 749.2 302.3 748.9 302.9 748.7 303.6 748.4 304.3 748.2 304.9 748 305.6 747.7 306.2 747.5 306.9 747.3 307.5 747 308.2 746.8 308.9 746.6 309.5 746.4 310.2 746.2 310.9 746 311.5 745.7 312.2 745.5 312.8 745.3 313.5 745.1 314.2 745 314.8 744.8 315.5 744.6 316.2 744.4 316.9 744.2 317.5 744 318.2 743.9 318.9 743.7 319.5 743.5 320.2 743.4 320.9 743.2 321.6 743 322.2 742.9 322.9 742.8 323.6 742.6 324.3 742.5 324.9 742.3 325.6 742.2 326.3 742.1 327 742 327.6 741.8 328.3 741.7 329 741.6 329.7 741.5 330.4 741.4 331.1 741.3 331.7 741.2 332.4 741.1 333.1 741 333.8 740.9 334.5 740.8 335.2 740.8 335.9 740.7 336.5 740.6 337.2 740.6 337.9 740.5 338.6 740.4 339.3 740.4 340 740.3 340.7 740.3 341.4 740.2 342.1 740.2 342.8 740.1 343.5 740.1 344.2 740.1 344.8 740 345.5 740 346.2 740 346.9 740 347.6 739.9 348.3 739.9 349 739.9 349.7 739.9 350.4 739.9 351.1 739.9 351.8 739.9 352.5 739.9 353.2 739.9 353.9 739.9 354.6 739.9 355.3 739.9 356 740 356.7 740 357.4 740 358.1 740 358.8 740 359.5 740.1 360.2 740.1 360.9 740.1 361.6 740.2 362.3 740.2 363 740.3 363.7 740.3 364.4 740.4 365.1 740.4 365.8 740.5 366.5 740.5 367.2 740.6 367.9 740.6 368.6 740.7 369.3 740.7 370 740.8 370.7 740.8 371.4 740.9 372.1 741 372.8 741 373.5 741.1 374.2 741.2 374.9 741.2 375.6 741.3 376.3 741.4 377 741.5 377.7 741.5 378.4 741.6 379.1 741.7 379.8 741.8 380.5 741.9 381.2 742 381.9 742.1 382.6 742.2 383.3 742.3 384 742.3 384.7 742.4 385.4 742.5 386.1 742.6 386.8 742.7 387.5 742.9 388.2 743 388.9 743.1 389.6 743.2 390.3 743.3 391 743.4 391.7 743.5 392.4 743.6" stroke="#ff0000" stroke-width="1.95" stroke-linejoin="round"/>
</g>
<g clip-path="url(#cr)" fill="none">
<path d="M452.3 731.4 452.8 731.4 453.3 731.4 453.8 731.4 454.3 731.4 454.8 731.4 455.3 731.4 455.8 731.4 456.3 731.4 456.8 731.4 457.3 731.4 457.8 731.4 458.3 731.4 458.8 731.4 459.3 731.4 459.8 731.4 460.3 731.4 460.8 731.4 461.3 731.4 461.8 731.4 462.3 731.4 462.8 731.4 463.3 731.4 463.8 731.4 464.3 731.4 464.8 731.4 465.3 731.4 465.8 731.4 466.3 731.4 466.8 731.4 467.3 731.4 467.8 731.4 468.3 731.4 468.8 731.4 469.3 731.4 469.8 731.4 470.3 731.4 470.8 731.4 471.3 731.4 471.8 731.4 472.3 731.4 472.8 731.4 473.3 731.4 473.8 731.4 474.3 731.4 474.8 731.4 475.3 731.4 475.8 731.4 476.3 731.4 476.8 731.4 477.3 731.4 477.8 731.4 478.3 731.4 478.8 731.4 479.3 731.4 479.8 731.4 480.3 731.4 480.8 731.4 481.3 731.4 481.8 731.4 482.3 731.4 482.8 731.4 483.3 731.4 483.8 731.4 484.3 731.4 484.8 731.4 485.3 731.4 485.8 731.4 486.3 731.4 486.8 731.4 487.3 731.4 487.8 731.4 488.3 731.4 488.8 731.4 489.3 731.4 489.8 731.4 490.3 731.4 490.8 731.4 491.3 731.4 491.8 731.4 492.3 731.4 492.8 731.4 493.3 731.4 493.8 731.4 494.3 731.4 494.8 731.4 495.3 731.4 495.8 731.4 496.3 731.4 496.8 731.4 497.3 731.4 497.8 731.4 498.3 731.4 498.8 731.4 499.3 731.4 499.8 731.4 500.3 731.4 500.8 731.4 501.3 731.4 501.8 731.4 502.3 731.4 502.8 731.4 503.3 731.4 503.8 731.4 504.3 731.4 504.8 731.4 505.3 731.4 505.8 731.4 506.3 731.4 506.8 731.4 507.3 731.4 507.8 731.4 508.3 731.4 508.8 731.4 509.3 731.4 509.8 731.4 510.3 731.4 510.8 731.4 511.3 731.4 511.8 731.4 512.3 731.4 512.8 731.4 513.3 731.4 513.8 731.4 514.3 731.4 514.8 731.4 515.3 731.4 515.8 731.4 516.3 731.4 516.8 731.4 517.3 731.4 517.8 731.4 518.3 731.4 518.8 731.4 519.3 731.4 519.8 731.4 520.3 731.4 520.8 731.4 521.3 731.4 521.8 731.4 522.3 731.4 522.8 731.4 523.3 731.4 523.8 731.4 524.3 731.4 524.8 731.4 525.3 731.4 525.8 731.4 526.3 731.4 526.8 731.4 527.3 731.4 527.8 731.4 528.3 731.4 528.8 731.4 529.3 731.4 529.8 731.4 530.3 731.4 530.8 731.4 531.3 731.4 531.8 731.4 532.3 731.4 532.8 731.4 533.3 731.4 533.8 731.4 534.3 731.4 534.8 731.4 535.3 731.4 535.8 731.4 536.3 731.4 536.8 731.4 537.3 731.4 537.8 731.4 538.3 731.4 538.8 731.4 539.3 731.4 539.8 731.4 540.3 731.4 540.8 731.4 541.3 731.4 541.8 731.4 542.3 731.4 542.8 731.4 543.3 731.4 543.8 731.4 544.3 731.4 544.8 731.4 545.3 731.4 545.8 731.4 546.3 731.4 546.8 731.5 547.3 731.5 547.8 731.5 548.3 731.5 548.8 731.5 549.3 731.5 549.8 731.5 550.3 731.5 550.8 731.5 551.3 731.5 551.8 731.5 552.3 731.5 552.8 731.5 553.3 731.5 553.8 731.5 554.3 731.5 554.8 731.5 555.3 731.5 555.8 731.5 556.3 731.5 556.8 731.5 557.3 731.5 557.8 731.5 558.3 731.5 558.8 731.5 559.3 731.5 559.8 731.5 560.3 731.5 560.8 731.5 561.3 731.5 561.8 731.5 562.3 731.5 562.8 731.5 563.3 731.5 563.8 731.5 564.3 731.5 564.8 731.5 565.3 731.5 565.8 731.5 566.3 731.5 566.8 731.5 567.3 731.5 567.8 731.5 568.3 731.5 568.8 731.5 569.3 731.5 569.8 731.5 570.3 731.5 570.8 731.5 571.3 731.5 571.8 731.5 572.3 731.5 572.8 731.5 573.3 731.5 573.8 731.5 574.3 731.5 574.8 731.5 575.3 731.5 575.8 731.5 576.3 731.5 576.8 731.5 577.3 731.5 577.8 731.5 578.3 731.5 578.8 731.5 579.3 731.5 579.8 731.5 580.3 731.5 580.8 731.5 581.3 731.5 581.8 731.5 582.3 731.5 582.8 731.5 583.3 731.5 583.8 731.5 584.3 731.5 584.8 731.5 585.3 731.5 585.8 731.5 586.3 731.5 586.8 731.5 587.3 731.5 587.8 731.5 588.3 731.5 588.8 731.5 589.3 731.5 589.8 731.5 590.3 731.5 590.8 731.5 591.3 731.6 591.8 731.6 592.3 731.6 592.8 731.6 593.3 731.6 593.8 731.6 594.3 731.6 594.8 731.6 595.3 731.6 595.8 731.6 596.3 731.6 596.8 731.6 597.3 731.6 597.8 731.6 598.3 731.6 598.8 731.6 599.3 731.6 599.8 731.6 600.3 731.6 600.8 731.6 601.3 731.6 601.8 731.6 602.3 731.6 602.8 731.6 603.3 731.6 603.8 731.6 604.3 731.6 604.8 731.6 605.3 731.6 605.8 731.6 606.3 731.6 606.8 731.6 607.3 731.6 607.8 731.6 608.3 731.6 608.8 731.6 609.3 731.6 609.8 731.6 610.3 731.6 610.8 731.7 611.3 731.7 611.8 731.7 612.3 731.7 612.8 731.7 613.3 731.7 613.8 731.7 614.3 731.7 614.8 731.7 615.3 731.7 615.8 731.7 616.3 731.7 616.8 731.7 617.3 731.7 617.8 731.7 618.3 731.7 618.8 731.7 619.3 731.7 619.8 731.7 620.3 731.7 620.8 731.7 621.3 731.7 621.8 731.7 622.3 731.7 622.8 731.7 623.3 731.7 623.8 731.8 624.3 731.8 624.8 731.8 625.3 731.8 625.8 731.8 626.3 731.8 626.8 731.8 627.3 731.8 627.8 731.8 628.3 731.8 628.8 731.8 629.3 731.8 629.8 731.8 630.3 731.8 630.8 731.8 631.3 731.8 631.8 731.8 632.3 731.8 632.8 731.8 633.3 731.9 633.8 731.9 634.3 731.9 634.8 731.9 635.3 731.9 635.8 731.9 636.3 731.9 636.8 731.9 637.3 731.9 637.8 731.9 638.3 731.9 638.8 731.9 639.3 731.9 639.8 731.9 640.3 731.9 640.8 731.9 641.3 732 641.8 732 642.3 732 642.8 732 643.3 732 643.8 732 644.3 732 644.8 732 645.3 732 645.8 732 646.3 732 646.8 732 647.3 732 647.8 732.1 648.3 732.1 648.8 732.1 649.3 732.1 649.8 732.1 650.3 732.1 650.8 732.1 651.3 732.1 651.8 732.1 652.3 732.1 652.8 732.1 653.3 732.2 653.8 732.2 654.3 732.2 654.8 732.2 655.3 732.2 655.8 732.2 656.3 732.2 656.8 732.2 657.3 732.2 657.8 732.3 658.3 732.3 658.8 732.3 659.3 732.3 659.8 732.3 660.3 732.3 660.8 732.3 661.3 732.3 661.8 732.3 662.3 732.4 662.8 732.4 663.3 732.4 663.8 732.4 664.3 732.4 664.8 732.4 665.3 732.4 665.8 732.4 666.3 732.5 666.8 732.5 667.3 732.5 667.8 732.5 668.3 732.5 668.8 732.5 669.3 732.5 669.8 732.6 670.3 732.6 670.8 732.6 671.3 732.6 671.8 732.6 672.3 732.6 672.8 732.6 673.3 732.7 673.8 732.7 674.3 732.7 674.8 732.7 675.3 732.7 675.8 732.7 676.3 732.8 676.8 732.8 677.3 732.8 677.8 732.8 678.3 732.8 678.8 732.8 679.3 732.9 679.8 732.9 680.3 732.9 680.8 732.9 681.3 732.9 681.8 732.9 682.3 733 682.8 733 683.3 733 683.8 733 684.3 733 684.8 733.1 685.3 733.1 685.8 733.1 686.3 733.1 686.8 733.1 687.3 733.2 687.8 733.2 688.3 733.2 688.8 733.2 689.3 733.2 689.8 733.3 690.3 733.3 690.8 733.3 691.3 733.3 691.8 733.4 692.3 733.4 692.8 733.4 693.3 733.4 693.8 733.4 694.3 733.5 694.8 733.5 695.3 733.5 695.8 733.5 696.3 733.6 696.8 733.6 697.3 733.6 697.8 733.6 698.3 733.7 698.8 733.7 699.3 733.7 699.8 733.7 700.3 733.8 700.8 733.8 701.3 733.8 701.8 733.8 702.3 733.9 702.8 733.9 703.3 733.9 703.8 733.9 704.3 734 704.8 734 705.3 734 705.8 734 706.3 734.1 706.8 734.1 707.3 734.1 707.8 734.1 708.3 734.2 708.8 734.2 709.3 734.2 709.8 734.3 710.3 734.3 710.8 734.3 711.3 734.3 711.8 734.4 712.3 734.4 712.8 734.4 713.3 734.4 713.8 734.5 714.3 734.5 714.8 734.5 715.3 734.5 715.8 734.6 716.3 734.6 716.8 734.6 717.3 734.7 717.8 734.7 718.3 734.7 718.8 734.7 719.3 734.8 719.8 734.8 720.3 734.8 720.8 734.8 721.3 734.9 721.8 734.9 722.3 734.9 722.8 734.9 723.3 735 723.8 735 724.3 735 724.8 735 725.3 735 725.8 735.1 726.3 735.1 726.8 735.1 727.3 735.1 727.8 735.1 728.3 735.1 728.8 735.2 729.3 735.2 729.8 735.2 730.3 735.2 730.8 735.2 731.3 735.2 731.8 735.2 732.3 735.3 732.8 735.3 733.3 735.3 733.8 735.3 734.3 735.3 734.8 735.3 735.3 735.3 735.8 735.3 736.3 735.3 736.8 735.3 737.3 735.3 737.8 735.3 738.3 735.2 738.8 735.2 739.3 735.2 739.8 735.2 740.3 735.2 740.8 735.2 741.3 735.1 741.8 735.1 742.3 735.1 742.8 735 743.3 735 743.8 735 744.3 734.9 744.8 734.9 745.3 734.8 745.8 734.8 746.3 734.7 746.8 734.6 747.3 734.6 747.8 734.5 748.3 734.4 748.8 734.3 749.3 734.2 749.8 734.1 750.3 734 750.8 733.9 751.3 733.8 751.8 733.7 752.3 733.6 752.8 733.4 753.3 733.3 753.8 733.1 754.3 732.9 754.8 732.8 755.3 732.6 755.8 732.4 756.3 732.1 756.8 731.9 757.3 731.7 757.8 731.4 758.3 731.2 758.8 730.9 759.3 730.6 759.8 730.3 760.3 729.9 760.8 729.6 761.3 729.2 761.8 728.8 762.3 728.4 762.8 727.9 763.3 727.4 763.8 726.9 764.3 726.4 764.8 725.8 765.3 725.2 765.8 724.6 766.3 723.9 766.8 723.1 767.3 722.4 767.8 721.5 768.3 720.6 768.8 719.7 769.3 718.7 769.8 717.6 770.3 716.4 770.8 715.2 771.3 713.8 771.8 712.4 772.3 710.9 772.8 709.2 773.3 707.4 773.8 705.4 774.3 703.3 774.8 701 775.3 698.5 775.8 695.7 776.3 692.7 776.8 689.4 777.3 685.8 777.8 681.7 778.3 677.3 778.8 672.3 779.3 666.7 779.8 660.4 780.3 653.3 780.8 645.2 781.3 636 781.8 625.2 782.3 612.7 782.8 597.8 783.3 580.1 783.8 558.5 784.3 531.7" stroke="#000" stroke-width="1.5" stroke-dasharray="15.9 15.8"/>
<g fill="#000" stroke="none"><circle cx="455.4" cy="974.5" r="1.38"/><circle cx="462.1" cy="964" r="1.38"/><circle cx="468.8" cy="953.3" r="1.38"/><circle cx="475.5" cy="942.6" r="1.38"/><circle cx="482.6" cy="931.9" r="1.38"/><circle cx="489.7" cy="921.4" r="1.38"/><circle cx="496.9" cy="910.9" r="1.38"/><circle cx="504.5" cy="900.6" r="1.38"/><circle cx="511.8" cy="890.4" r="1.38"/><circle cx="519.6" cy="880.1" r="1.38"/><circle cx="527.4" cy="870" r="1.38"/><circle cx="535.2" cy="860.6" r="1.38"/><circle cx="543.5" cy="850.6" r="1.38"/><circle cx="552" cy="841.3" r="1.38"/><circle cx="560.4" cy="831.9" r="1.38"/><circle cx="569.4" cy="822.8" r="1.38"/><circle cx="578.3" cy="813.8" r="1.38"/><circle cx="587.6" cy="805.4" r="1.38"/><circle cx="597" cy="796.9" r="1.38"/><circle cx="607" cy="788.6" r="1.38"/><circle cx="617.3" cy="781" r="1.38"/><circle cx="627.2" cy="773.7" r="1.38"/><circle cx="637.9" cy="766.5" r="1.38"/><circle cx="648.8" cy="759.9" r="1.38"/><circle cx="660.2" cy="754.1" r="1.38"/><circle cx="671.8" cy="748.7" r="1.38"/><circle cx="683.4" cy="744.2" r="1.38"/><circle cx="695.6" cy="740.2" r="1.38"/><circle cx="708.1" cy="737.6" r="1.38"/><circle cx="720.9" cy="735.8" r="1.38"/><circle cx="733.1" cy="734.2" r="1.38"/><circle cx="745.8" cy="732.9" r="1.38"/></g>
<path d="M452.3 538.5 452.4 539.2 452.6 539.9 452.7 540.5 452.8 541.2 453 541.9 453.1 542.6 453.3 543.3 453.4 544 453.5 544.6 453.7 545.3 453.8 546 453.9 546.7 454.1 547.4 454.2 548 454.4 548.7 454.5 549.4 454.6 550.1 454.8 550.8 454.9 551.5 455.1 552.1 455.2 552.8 455.3 553.5 455.5 554.2 455.6 554.9 455.8 555.6 455.9 556.2 456.1 556.9 456.2 557.6 456.4 558.3 456.5 559 456.6 559.7 456.8 560.3 456.9 561 457.1 561.7 457.2 562.4 457.4 563.1 457.5 563.8 457.7 564.4 457.8 565.1 458 565.8 458.1 566.5 458.3 567.2 458.4 567.9 458.6 568.5 458.7 569.2 458.9 569.9 459 570.6 459.2 571.3 459.3 572 459.5 572.7 459.7 573.3 459.8 574 460 574.7 460.1 575.4 460.3 576.1 460.4 576.8 460.6 577.4 460.7 578.1 460.9 578.8 461.1 579.5 461.2 580.2 461.4 580.9 461.5 581.5 461.7 582.2 461.8 582.9 462 583.6 462.2 584.3 462.3 585 462.5 585.7 462.6 586.3 462.8 587 463 587.7 463.1 588.4 463.3 589.1 463.5 589.8 463.6 590.4 463.8 591.1 463.9 591.8 464.1 592.5 464.3 593.2 464.4 593.9 464.6 594.5 464.8 595.2 464.9 595.9 465.1 596.6 465.3 597.3 465.4 598 465.6 598.7 465.8 599.3 465.9 600 466.1 600.7 466.3 601.4 466.4 602.1 466.6 602.8 466.8 603.4 467 604.1 467.1 604.8 467.3 605.5 467.5 606.2 467.6 606.8 467.8 607.5 468 608.2 468.2 608.9 468.3 609.6 468.5 610.3 468.7 610.9 468.8 611.6 469 612.3 469.2 613 469.4 613.7 469.5 614.4 469.7 615 469.9 615.7 470.1 616.4 470.3 617.1 470.4 617.8 470.6 618.4 470.8 619.1 471 619.8 471.1 620.5 471.3 621.2 471.5 621.8 471.7 622.5 471.9 623.2 472 623.9 472.2 624.6 472.4 625.2 472.6 625.9 472.8 626.6 472.9 627.3 473.1 628 473.3 628.6 473.5 629.3 473.7 630 473.9 630.7 474 631.4 474.2 632 474.4 632.7 474.6 633.4 474.8 634.1 475 634.7 475.1 635.4 475.3 636.1 475.5 636.8 475.7 637.4 475.9 638.1 476.1 638.8 476.3 639.5 476.5 640.2 476.6 640.8 476.8 641.5 477 642.2 477.2 642.9 477.4 643.5 477.6 644.2 477.8 644.9 478 645.6 478.2 646.2 478.4 646.9 478.5 647.6 478.7 648.2 478.9 648.9 479.1 649.6 479.3 650.3 479.5 650.9 479.7 651.6 479.9 652.3 480.1 653 480.3 653.6 480.5 654.3 480.7 655 480.9 655.6 481.1 656.3 481.3 657 481.5 657.7 481.7 658.3 481.9 659 482.1 659.7 482.3 660.3 482.5 661 482.7 661.7 482.9 662.3 483.1 663 483.3 663.7 483.5 664.3 483.7 665 483.9 665.7 484.1 666.3 484.3 667 484.5 667.7 484.7 668.3 484.9 669 485.1 669.7 485.4 670.3 485.6 671 485.8 671.7 486 672.3 486.2 673 486.4 673.7 486.6 674.3 486.9 675 487.1 675.6 487.3 676.3 487.5 677 487.7 677.6 487.9 678.3 488.2 679 488.4 679.6 488.6 680.3 488.8 680.9 489.1 681.6 489.3 682.3 489.5 682.9 489.7 683.6 490 684.2 490.2 684.9 490.4 685.5 490.7 686.2 490.9 686.9 491.1 687.5 491.4 688.2 491.6 688.8 491.8 689.5 492.1 690.1 492.3 690.8 492.5 691.5 492.8 692.1 493 692.8 493.3 693.4 493.5 694.1 493.8 694.7 494 695.4 494.3 696 494.5 696.7 494.8 697.3 495 698 495.3 698.6 495.5 699.3 495.8 699.9 496 700.6 496.3 701.2 496.5 701.9 496.8 702.5 497 703.2 497.3 703.8 497.6 704.5 497.8 705.1 498.1 705.8 498.4 706.4 498.6 707.1 498.9 707.7 499.2 708.3 499.4 709 499.7 709.6 500 710.3 500.3 710.9 500.5 711.6 500.8 712.2 501.1 712.8 501.4 713.5 501.7 714.1 502 714.8 502.2 715.4 502.5 716 502.8 716.7 503.1 717.3 503.4 718 503.7 718.6 504 719.2 504.3 719.9 504.6 720.5 504.9 721.1 505.2 721.8 505.5 722.4 505.8 723 506.1 723.7 506.4 724.3 506.7 724.9 507 725.6 507.3 726.2 507.6 726.8 507.9 727.5 508.3 728.1 508.6 728.7 508.9 729.4 509.2 730 509.5 730.6 509.9 731.3 510.2 731.9 510.5 732.5 510.9 733.1 511.2 733.8 511.5 734.4 511.9 735 512.2 735.6 512.5 736.3 512.9 736.9 513.2 737.5 513.6 738.1 513.9 738.8 514.2 739.4 514.6 740 514.9 740.6 515.3 741.2 515.7 741.9 516 742.5 516.4 743.1 516.7 743.7 517.1 744.3 517.5 744.9 517.8 745.6 518.2 746.2 518.6 746.8 518.9 747.4 519.3 748 519.7 748.6 520.1 749.2 520.4 749.8 520.8 750.5 521.2 751.1 521.6 751.7 522 752.3 522.4 752.9 522.8 753.5 523.2 754.1 523.6 754.7 524 755.3 524.4 755.8 524.8 756.4 525.2 757 525.6 757.6 526 758.2 526.4 758.8 526.8 759.3 527.2 759.9 527.7 760.5 528.1 761.1 528.5 761.6 529 762.2 529.4 762.7 529.8 763.3 530.3 763.8 530.7 764.4 531.2 764.9 531.6 765.5 532.1 766 532.5 766.5 533 767.1 533.4 767.6 533.9 768.1 534.4 768.6 534.8 769.2 535.3 769.7 535.8 770.2 536.2 770.7 536.7 771.2 537.2 771.7 537.7 772.1 538.2 772.6 538.7 773.1 539.2 773.6 539.7 774 540.2 774.5 540.7 775 541.2 775.4 541.7 775.8 542.2 776.3 542.8 776.7 543.3 777.1 543.8 777.6 544.3 778 544.9 778.4 545.4 778.8 546 779.2 546.5 779.6 547.1 780 547.6 780.3 548.2 780.7 548.7 781.1 549.3 781.4 549.9 781.8 550.4 782.1 551 782.5 551.6 782.8 552.2 783.1 552.8 783.5 553.4 783.8 554 784.1 554.6 784.4 555.2 784.6 555.8 784.9 556.4 785.2 557 785.5 557.6 785.7 558.3 786 558.9 786.2 559.5 786.4 560.2 786.7 560.8 786.9 561.5 787.1 562.1 787.3 562.8 787.5 563.4 787.7 564.1 787.8 564.8 788 565.4 788.2 566.1 788.3 566.8 788.4 567.5 788.6 568.1 788.7 568.8 788.8 569.5 788.9 570.2 789 570.9 789.1 571.6 789.2 572.3 789.3 573 789.4 573.7 789.4 574.4 789.5 575.1 789.5 575.8 789.6 576.5 789.6 577.2 789.6 577.9 789.7 578.6 789.7 579.4 789.7 580.1 789.7 580.8 789.7 581.5 789.7 582.2 789.6 582.9 789.6 583.6 789.6 584.3 789.5 585 789.5 585.7 789.4 586.5 789.4 587.2 789.3 587.9 789.2 588.6 789.1 589.3 789 590 788.9 590.7 788.8 591.4 788.7 592.1 788.6 592.8 788.5 593.5 788.4 594.2 788.2 594.9 788.1 595.5 787.9 596.2 787.8 596.9 787.6 597.6 787.5 598.3 787.3 599 787.1 599.6 787 600.3 786.8 601 786.6 601.7 786.5 602.3 786.3 603 786.1 603.7 786 604.3 785.8 605 785.6 605.7 785.4 606.3 785.2 607 785 607.7 784.8 608.3 784.6 609 784.4 609.6 784.2 610.3 784 611 783.8 611.6 783.5 612.3 783.3 612.9 783.1 613.6 782.9 614.2 782.6 614.9 782.4 615.5 782.1 616.2 781.9 616.8 781.7 617.4 781.4 618.1 781.1 618.7 780.9 619.4 780.6 620 780.4 620.7 780.1 621.3 779.8 621.9 779.6 622.6 779.3 623.2 779 623.8 778.8 624.5 778.5 625.1 778.2 625.7 777.9 626.4 777.7 627 777.4 627.6 777.1 628.3 776.8 628.9 776.5 629.5 776.2 630.2 776 630.8 775.7 631.4 775.4 632 775.1 632.7 774.8 633.3 774.5 633.9 774.2 634.5 773.9 635.2 773.6 635.8 773.3 636.4 773 637 772.7 637.7 772.4 638.3 772 638.9 771.7 639.5 771.4 640.1 771.1 640.8 770.8 641.4 770.5 642 770.2 642.6 769.8 643.2 769.5 643.9 769.2 644.5 768.9 645.1 768.6 645.7 768.3 646.3 767.9 647 767.6 647.6 767.3 648.2 767 648.8 766.7 649.4 766.4 650.1 766 650.7 765.7 651.3 765.4 651.9 765.1 652.5 764.7 653.1 764.4 653.8 764 654.4 763.7 655 763.4 655.6 763 656.2 762.7 656.9 762.4 657.5 762 658.1 761.7 658.7 761.4 659.3 761.1 659.9 760.7 660.6 760.4 661.2 760.1 661.8 759.8 662.4 759.5 663.1 759.1 663.7 758.8 664.3 758.5 664.9 758.2 665.5 757.9 666.2 757.6 666.8 757.3 667.4 756.9 668 756.6 668.7 756.3 669.3 756 669.9 755.7 670.5 755.4 671.2 755.1 671.8 754.8 672.4 754.5 673 754.2 673.7 753.9 674.3 753.6 674.9 753.4 675.6 753.1 676.2 752.8 676.8 752.5 677.5 752.2 678.1 752 678.7 751.7 679.4 751.4 680 751.1 680.6 750.8 681.3 750.5 681.9 750.2 682.5 750 683.2 749.7 683.8 749.4 684.5 749.1 685.1 748.8 685.8 748.6 686.4 748.3 687 748 687.7 747.8 688.3 747.5 689 747.2 689.6 747 690.3 746.7 690.9 746.5 691.6 746.2 692.2 746 692.9 745.7 693.6 745.5 694.2 745.3 694.9 745 695.5 744.8 696.2 744.6 696.9 744.3 697.5 744.1 698.2 743.8 698.9 743.6 699.5 743.4 700.2 743.1 700.9 742.9 701.5 742.7 702.2 742.4 702.9 742.2 703.6 742 704.2 741.8 704.9 741.6 705.6 741.4 706.3 741.2 707 740.9 707.6 740.7 708.3 740.5 709 740.4 709.7 740.2 710.4 740 711.1 739.8 711.8 739.6 712.1 739.6 712.8 739.5 713.6 739.4 714.3 739.3 715 739.2 715.7 739 716.4 739 717.2 738.9 717.9 738.8 718.6 738.7 719.3 738.6 720 738.5 720.8 738.4 721.5 738.3 722.2 738.2 722.9 738.1 723.7 737.9 724.4 737.8 725.1 737.6 725.8 737.5 726.6 737.4 727.3 737.3 728 737.2 728.7 737.1 729.5 737 730.2 736.8 730.9 736.7 731.6 736.6 732.3 736.5 733.1 736.4 733.8 736.2 734.5 736.1 735.2 736 735.9 735.8 736.6 735.7 737.3 735.6 738 735.5 738.7 735.4 739.4 735.3 740.1 735.2 740.8 735.1 741.5 735 742.2 734.8 742.9 734.7 743.5 734.5 744.2 734.4 744.9 734.2 745.6 734.1 746.2 733.9 746.9 733.7 747.5 733.5 748.2 733.3 748.9 733.1 749.5 732.9 750.1 732.7 750.8 732.5 751.4 732.2 752 732 752.7 731.7 753.3 731.5 753.9 731.2 754.5 730.9 755.1 730.6 755.7 730.3 756.3 730 756.8 729.6 757.4 729.3 758 728.9 758.5 728.6 759 728.2 759.6 727.8 760.1 727.4 760.6 726.9 761.1 726.5 761.6 726.1 762.1 725.6 762.5 725.1 763 724.7 763.4 724.2 763.9 723.6 764.3 723.1 764.7 722.6 765.1 722 765.4 721.4 765.8 720.9 766.2 720.3 766.5 719.7 766.8 719.1 767.1 718.5 767.5 717.9 767.8 717.3 768 716.6 768.3 716 768.6 715.4 768.9 714.7 769.1 714.1 769.4 713.4 769.6 712.8 769.9 712.1 770.1 711.4 770.4 710.8 770.6 710.1 770.8 709.5 771.1 708.8 771.3 708.2 771.5 707.5 771.7 706.8 771.9 706.2 772.2 705.5 772.4 704.8 772.6 704.2 772.8 703.5 773 702.8 773.1 702.2 773.3 701.5 773.5 700.8 773.7 700.2 773.9 699.5 774.1 698.8 774.2 698.2 774.4 697.5 774.6 696.8 774.7 696.2 774.9 695.5 775 694.8 775.2 694.1 775.3 693.5 775.5 692.8 775.6 692.1 775.7 691.4 775.9 690.8 776 690.1 776.1 689.4 776.3 688.7 776.4 688.1 776.5 687.4 776.6 686.7 776.8 686 776.9 685.3 777 684.7 777.1 684 777.2 683.3 777.3 682.6 777.4 681.9 777.5 681.2 777.6 680.5 777.7 679.8 777.8 679.2 777.9 678.5 777.9 677.8 778 677.1 778.1 676.4 778.2 675.7 778.3 675 778.3 674.3 778.4 673.6 778.5 672.9 778.6 672.3 778.6 671.6 778.7 670.9 778.8 670.2 778.8 669.5 778.9 668.8 778.9 668.1 779 667.4 779.1 666.7 779.1 666 779.2 665.3 779.2 664.6 779.3 663.9 779.3 663.2 779.4 662.5 779.4 661.8 779.5 661.2 779.5 660.5 779.5 659.8 779.6 659.1 779.6 658.4 779.7 657.7 779.7 657 779.7 656.3 779.8 655.6 779.8 654.9 779.8 654.2 779.9 653.5 779.9 652.8 779.9 652.1 780 651.4 780 650.7 780 650 780 649.3 780.1 648.6 780.1 647.9 780.1 647.2 780.1 646.5 780.2 645.8 780.2 645.1 780.2 644.4 780.2 643.7 780.3 643 780.3 642.3 780.3 641.6 780.3 640.9 780.3 640.2 780.4 639.5 780.4 638.8 780.4 638.1 780.4 637.4 780.4 636.7 780.5 636 780.5 635.3 780.5 634.6 780.5 633.9 780.5 633.2 780.6 632.5 780.6 631.8 780.6 631.1 780.6 630.4 780.7 629.7 780.7 629 780.7 628.3 780.7 627.6 780.7 626.9 780.8 626.2 780.8 625.5 780.8 624.7 780.8 624 780.9 623.3 780.9 622.6 780.9 621.9 780.9 621.2 781 620.5 781 619.8 781 619.1 781 618.4 781.1 617.7 781.1 617 781.1 616.3 781.1 615.6 781.2 614.9 781.2 614.2 781.2 613.5 781.2 612.8 781.3 612.1 781.3 611.4 781.3 610.7 781.3 610 781.4 609.3 781.4 608.5 781.4 607.8 781.4 607.1 781.5 606.4 781.5 605.7 781.5 605 781.5 604.3 781.6 603.6 781.6 602.9 781.6 602.2 781.7 601.5 781.7 600.8 781.7 600.1 781.7 599.4 781.8 598.7 781.8 598 781.8 597.3 781.8 596.6 781.9 595.9 781.9 595.2 781.9 594.4 782 593.7 782 593 782 592.3 782 591.6 782.1 590.9 782.1 590.2 782.1 589.5 782.1 588.8 782.2 588.1 782.2 587.4 782.2 586.7 782.3 586 782.3 585.3 782.3 584.6 782.3 583.9 782.4 583.2 782.4 582.5 782.4 581.8 782.4 581.1 782.5 580.4 782.5 579.7 782.5 578.9 782.6 578.2 782.6 577.5 782.6 576.8 782.6 576.1 782.7 575.4 782.7 574.7 782.7 574 782.7 573.3 782.8 572.6 782.8 571.9 782.8 571.2 782.8 570.5 782.9 569.8 782.9 569.1 782.9 568.4 782.9 567.7 783 567 783 566.3 783 565.6 783 564.9 783.1 564.2 783.1 563.5 783.1 562.8 783.1 562.1 783.2 561.4 783.2 560.7 783.2 560 783.2 559.3 783.3 558.6 783.3 557.9 783.3 557.2 783.3 556.5 783.4 555.8 783.4 555.1 783.4 554.4 783.4 553.7 783.4 553 783.5 552.3 783.5 551.6 783.5 550.9 783.5 550.2 783.6 549.5 783.6 548.8 783.6 548.1 783.6 547.4 783.6 546.7 783.7 546 783.7 545.3 783.7 544.6" stroke="#000" stroke-width="1.55" stroke-dasharray="8.1 7.8" stroke-dashoffset="1.62"/>
<path d="M452.3 538.5 452.4 539.2 452.6 539.9 452.7 540.5 452.8 541.2 453 541.9 453.1 542.6 453.3 543.3 453.4 544 453.5 544.6 453.7 545.3 453.8 546 453.9 546.7 454.1 547.4 454.2 548 454.4 548.7 454.5 549.4 454.6 550.1 454.8 550.8 454.9 551.5 455.1 552.1 455.2 552.8 455.3 553.5 455.5 554.2 455.6 554.9 455.8 555.6 455.9 556.2 456.1 556.9 456.2 557.6 456.4 558.3 456.5 559 456.6 559.7 456.8 560.3 456.9 561 457.1 561.7 457.2 562.4 457.4 563.1 457.5 563.8 457.7 564.4 457.8 565.1 458 565.8 458.1 566.5 458.3 567.2 458.4 567.9 458.6 568.5 458.7 569.2 458.9 569.9 459 570.6 459.2 571.3 459.3 572 459.5 572.7 459.7 573.3 459.8 574 460 574.7 460.1 575.4 460.3 576.1 460.4 576.8 460.6 577.4 460.7 578.1 460.9 578.8 461.1 579.5 461.2 580.2 461.4 580.9 461.5 581.5 461.7 582.2 461.8 582.9 462 583.6 462.2 584.3 462.3 585 462.5 585.7 462.6 586.3 462.8 587 463 587.7 463.1 588.4 463.3 589.1 463.5 589.8 463.6 590.4 463.8 591.1 463.9 591.8 464.1 592.5 464.3 593.2 464.4 593.9 464.6 594.5 464.8 595.2 464.9 595.9 465.1 596.6 465.3 597.3 465.4 598 465.6 598.7 465.8 599.3 465.9 600 466.1 600.7 466.3 601.4 466.4 602.1 466.6 602.8 466.8 603.4 467 604.1 467.1 604.8 467.3 605.5 467.5 606.2 467.6 606.8 467.8 607.5 468 608.2 468.2 608.9 468.3 609.6 468.5 610.3 468.7 610.9 468.8 611.6 469 612.3 469.2 613 469.4 613.7 469.5 614.4 469.7 615 469.9 615.7 470.1 616.4 470.3 617.1 470.4 617.8 470.6 618.4 470.8 619.1 471 619.8 471.1 620.5 471.3 621.2 471.5 621.8 471.7 622.5 471.9 623.2 472 623.9 472.2 624.6 472.4 625.2 472.6 625.9 472.8 626.6 472.9 627.3 473.1 628 473.3 628.6 473.5 629.3 473.7 630 473.9 630.7 474 631.4 474.2 632 474.4 632.7 474.6 633.4 474.8 634.1 475 634.7 475.1 635.4 475.3 636.1 475.5 636.8 475.7 637.4 475.9 638.1 476.1 638.8 476.3 639.5 476.5 640.2 476.6 640.8 476.8 641.5 477 642.2 477.2 642.9 477.4 643.5 477.6 644.2 477.8 644.9 478 645.6 478.2 646.2 478.4 646.9 478.5 647.6 478.7 648.2 478.9 648.9 479.1 649.6 479.3 650.3 479.5 650.9 479.7 651.6 479.9 652.3 480.1 653 480.3 653.6 480.5 654.3 480.7 655 480.9 655.6 481.1 656.3 481.3 657 481.5 657.7 481.7 658.3 481.9 659 482.1 659.7 482.3 660.3 482.5 661 482.7 661.7 482.9 662.3 483.1 663 483.3 663.7 483.5 664.3 483.7 665 483.9 665.7 484.1 666.3 484.3 667 484.5 667.7 484.7 668.3 484.9 669 485.1 669.7 485.4 670.3 485.6 671 485.8 671.7 486 672.3 486.2 673 486.4 673.7 486.6 674.3 486.9 675 487.1 675.6 487.3 676.3 487.5 677 487.7 677.6 487.9 678.3 488.2 679 488.4 679.6 488.6 680.3 488.8 680.9 489.1 681.6 489.3 682.3 489.5 682.9 489.7 683.6 490 684.2 490.2 684.9 490.4 685.5 490.7 686.2 490.9 686.9 491.1 687.5 491.4 688.2 491.6 688.8 491.8 689.5 492.1 690.1 492.3 690.8 492.5 691.5 492.8 692.1 493 692.8 493.3 693.4 493.5 694.1 493.8 694.7 494 695.4 494.3 696 494.5 696.7 494.8 697.3 495 698 495.3 698.6 495.5 699.3 495.8 699.9 496 700.6 496.3 701.2 496.5 701.9 496.8 702.5 497 703.2 497.3 703.8 497.6 704.5 497.8 705.1 498.1 705.8 498.4 706.4 498.6 707.1 498.9 707.7 499.2 708.3 499.4 709 499.7 709.6 500 710.3 500.3 710.9 500.5 711.6 500.8 712.2 501.1 712.8 501.4 713.5 501.7 714.1 502 714.8 502.2 715.4 502.5 716 502.8 716.7 503.1 717.3 503.4 718 503.7 718.6 504 719.2 504.3 719.9 504.6 720.5 504.9 721.1 505.2 721.8 505.5 722.4 505.8 723 506.1 723.7 506.4 724.3 506.7 724.9 507 725.6 507.3 726.2 507.6 726.8 507.9 727.5 508.3 728.1 508.6 728.7 508.9 729.4 509.2 730 509.5 730.6 509.9 731.3 510.2 731.9 510.5 732.5 510.9 733.1 511.2 733.8 511.5 734.4 511.9 735 512.2 735.6 512.5 736.3 512.9 736.9 513.2 737.5 513.6 738.1 513.9 738.8 514.2 739.4 514.6 740 514.9 740.6 515.3 741.2 515.7 741.9 516 742.5 516.4 743.1 516.7 743.7 517.1 744.3 517.5 744.9 517.8 745.6 518.2 746.2 518.6 746.8 518.9 747.4 519.3 748 519.7 748.6 520.1 749.2 520.4 749.8 520.8 750.5 521.2 751.1 521.6 751.7 522 752.3 522.4 752.9 522.8 753.5 523.2 754.1 523.6 754.7 524 755.3 524.4 755.8 524.8 756.4 525.2 757 525.6 757.6 526 758.2 526.4 758.8 526.8 759.3 527.2 759.9 527.7 760.5 528.1 761.1 528.5 761.6 529 762.2 529.4 762.7 529.8 763.3 530.3 763.8 530.7 764.4 531.2 764.9 531.6 765.5 532.1 766 532.5 766.5 533 767.1 533.4 767.6 533.9 768.1 534.4 768.6 534.8 769.2 535.3 769.7 535.8 770.2 536.2 770.7 536.7 771.2 537.2 771.7 537.7 772.1 538.2 772.6 538.7 773.1 539.2 773.6 539.7 774 540.2 774.5 540.7 775 541.2 775.4 541.7 775.8 542.2 776.3 542.8 776.7 543.3 777.1 543.8 777.6 544.3 778 544.9 778.4 545.4 778.8 546 779.2 546.5 779.6 547.1 780 547.6 780.3 548.2 780.7 548.7 781.1 549.3 781.4 549.9 781.8 550.4 782.1 551 782.5 551.6 782.8 552.2 783.1 552.8 783.5 553.4 783.8 554 784.1 554.6 784.4 555.2 784.6 555.8 784.9 556.4 785.2 557 785.5 557.6 785.7 558.3 786 558.9 786.2 559.5 786.4 560.2 786.7 560.8 786.9 561.5 787.1 562.1 787.3 562.8 787.5 563.4 787.7 564.1 787.8 564.8 788 565.4 788.2 566.1 788.3 566.8 788.4 567.5 788.6 568.1 788.7 568.8 788.8 569.5 788.9 570.2 789 570.9 789.1 571.6 789.2 572.3 789.3 573 789.4 573.7 789.4 574.4 789.5 575.1 789.5 575.8 789.6 576.5 789.6 577.2 789.6 577.9 789.7 578.6 789.7 579.4 789.7 580.1 789.7 580.8 789.7 581.5 789.7 582.2 789.6 582.9 789.6 583.6 789.6 584.3 789.5 585 789.5 585.7 789.4 586.5 789.4 587.2 789.3 587.9 789.2 588.6 789.1 589.3 789 590 788.9 590.7 788.8 591.4 788.7 592.1 788.6 592.8 788.5 593.5 788.4 594.2 788.2 594.9 788.1 595.5 787.9 596.2 787.8 596.9 787.6 597.6 787.5 598.3 787.3 599 787.1 599.6 787 600.3 786.8 601 786.6 601.7 786.5 602.3 786.3 603 786.1 603.7 786 604.3 785.8 605 785.6 605.7 785.4 606.3 785.2 607 785 607.7 784.8 608.3 784.6 609 784.4 609.6 784.2 610.3 784 611 783.8 611.6 783.5 612.3 783.3 612.9 783.1 613.6 782.9 614.2 782.6 614.9 782.4 615.5 782.1 616.2 781.9 616.8 781.7 617.4 781.4 618.1 781.1 618.7 780.9 619.4 780.6 620 780.4 620.7 780.1 621.3 779.8 621.9 779.6 622.6 779.3 623.2 779 623.8 778.8 624.5 778.5 625.1 778.2 625.7 777.9 626.4 777.7 627 777.4 627.6 777.1 628.3 776.8 628.9 776.5 629.5 776.2 630.2 776 630.8 775.7 631.4 775.4 632 775.1 632.7 774.8 633.3 774.5 633.9 774.2 634.5 773.9 635.2 773.6 635.8 773.3 636.4 773 637 772.7 637.7 772.4 638.3 772 638.9 771.7 639.5 771.4 640.1 771.1 640.8 770.8 641.4 770.5 642 770.2 642.6 769.8 643.2 769.5 643.9 769.2 644.5 768.9 645.1 768.6 645.7 768.3 646.3 767.9 647 767.6 647.6 767.3 648.2 767 648.8 766.7 649.4 766.4 650.1 766 650.7 765.7 651.3 765.4 651.9 765.1 652.5 764.7 653.1 764.4 653.8 764 654.4 763.7 655 763.4 655.6 763 656.2 762.7 656.9 762.4 657.5 762 658.1 761.7 658.7 761.4 659.3 761.1 659.9 760.7 660.6 760.4 661.2 760.1 661.8 759.8 662.4 759.5 663.1 759.1 663.7 758.8 664.3 758.5 664.9 758.2 665.5 757.9 666.2 757.6 666.8 757.3 667.4 756.9 668 756.6 668.7 756.3 669.3 756 669.9 755.7 670.5 755.4 671.2 755.1 671.8 754.8 672.4 754.5 673 754.2 673.7 753.9 674.3 753.6 674.9 753.4 675.6 753.1 676.2 752.8 676.8 752.5 677.5 752.2 678.1 752 678.7 751.7 679.4 751.4 680 751.1 680.6 750.8 681.3 750.5 681.9 750.2 682.5 750 683.2 749.7 683.8 749.4 684.5 749.1 685.1 748.8 685.8 748.6 686.4 748.3 687 748 687.7 747.8 688.3 747.5 689 747.2 689.6 747 690.3 746.7 690.9 746.5 691.6 746.2 692.2 746 692.9 745.7 693.6 745.5 694.2 745.3 694.9 745 695.5 744.8 696.2 744.6 696.9 744.3 697.5 744.1 698.2 743.8 698.9 743.6 699.5 743.4 700.2 743.1 700.9 742.9 701.5 742.7 702.2 742.4 702.9 742.2 703.6 742 704.2 741.8 704.9 741.6 705.6 741.4 706.3 741.2 707 740.9 707.6 740.7 708.3 740.5 709 740.4 709.7 740.2 710.4 740 711.1 739.8 711.8 739.6 712.1 739.6 712.8 739.5 713.6 739.4 714.3 739.3 715 739.2 715.7 739 716.4 739 717.2 738.9 717.9 738.8 718.6 738.7 719.3 738.6 720 738.5 720.8 738.4 721.5 738.3 722.2 738.2 722.9 738.1 723.7 737.9 724.4 737.8 725.1 737.6 725.8 737.5 726.6 737.4 727.3 737.3 728 737.2 728.7 737.1 729.5 737 730.2 736.8 730.9 736.7 731.6 736.6 732.3 736.5 733.1 736.4 733.8 736.2 734.5 736.1 735.2 736 735.9 735.8 736.6 735.7 737.3 735.6 738 735.5 738.7 735.4 739.4 735.3 740.1 735.2 740.8 735.1 741.5 735 742.2 734.8 742.9 734.7 743.5 734.5 744.2 734.4 744.9 734.2 745.6 734.1 746.2 733.9 746.9 733.7 747.5 733.5 748.2 733.3 748.9 733.1 749.5 732.9 750.1 732.7 750.8 732.5 751.4 732.2 752 732 752.7 731.7 753.3 731.5 753.9 731.2 754.5 730.9 755.1 730.6 755.7 730.3 756.3 730 756.8 729.6 757.4 729.3 758 728.9 758.5 728.6 759 728.2 759.6 727.8 760.1 727.4 760.6 726.9 761.1 726.5 761.6 726.1 762.1 725.6 762.5 725.1 763 724.7 763.4 724.2 763.9 723.6 764.3 723.1 764.7 722.6 765.1 722 765.4 721.4 765.8 720.9 766.2 720.3 766.5 719.7 766.8 719.1 767.1 718.5 767.5 717.9 767.8 717.3 768 716.6 768.3 716 768.6 715.4 768.9 714.7 769.1 714.1 769.4 713.4 769.6 712.8 769.9 712.1 770.1 711.4 770.4 710.8 770.6 710.1 770.8 709.5 771.1 708.8 771.3 708.2 771.5 707.5 771.7 706.8 771.9 706.2 772.2 705.5 772.4 704.8 772.6 704.2 772.8 703.5 773 702.8 773.1 702.2 773.3 701.5 773.5 700.8 773.7 700.2 773.9 699.5 774.1 698.8 774.2 698.2 774.4 697.5 774.6 696.8 774.7 696.2 774.9 695.5 775 694.8 775.2 694.1 775.3 693.5 775.5 692.8 775.6 692.1 775.7 691.4 775.9 690.8 776 690.1 776.1 689.4 776.3 688.7 776.4 688.1 776.5 687.4 776.6 686.7 776.8 686 776.9 685.3 777 684.7 777.1 684 777.2 683.3 777.3 682.6 777.4 681.9 777.5 681.2 777.6 680.5 777.7 679.8 777.8 679.2 777.9 678.5 777.9 677.8 778 677.1 778.1 676.4 778.2 675.7 778.3 675 778.3 674.3 778.4 673.6 778.5 672.9 778.6 672.3 778.6 671.6 778.7 670.9 778.8 670.2 778.8 669.5 778.9 668.8 778.9 668.1 779 667.4 779.1 666.7 779.1 666 779.2 665.3 779.2 664.6 779.3 663.9 779.3 663.2 779.4 662.5 779.4 661.8 779.5 661.2 779.5 660.5 779.5 659.8 779.6 659.1 779.6 658.4 779.7 657.7 779.7 657 779.7 656.3 779.8 655.6 779.8 654.9 779.8 654.2 779.9 653.5 779.9 652.8 779.9 652.1 780 651.4 780 650.7 780 650 780 649.3 780.1 648.6 780.1 647.9 780.1 647.2 780.1 646.5 780.2 645.8 780.2 645.1 780.2 644.4 780.2 643.7 780.3 643 780.3 642.3 780.3 641.6 780.3 640.9 780.3 640.2 780.4 639.5 780.4 638.8 780.4 638.1 780.4 637.4 780.4 636.7 780.5 636 780.5 635.3 780.5 634.6 780.5 633.9 780.5 633.2 780.6 632.5 780.6 631.8 780.6 631.1 780.6 630.4 780.7 629.7 780.7 629 780.7 628.3 780.7 627.6 780.7 626.9 780.8 626.2 780.8 625.5 780.8 624.7 780.8 624 780.9 623.3 780.9 622.6 780.9 621.9 780.9 621.2 781 620.5 781 619.8 781 619.1 781 618.4 781.1 617.7 781.1 617 781.1 616.3 781.1 615.6 781.2 614.9 781.2 614.2 781.2 613.5 781.2 612.8 781.3 612.1 781.3 611.4 781.3 610.7 781.3 610 781.4 609.3 781.4 608.5 781.4 607.8 781.4 607.1 781.5 606.4 781.5 605.7 781.5 605 781.5 604.3 781.6 603.6 781.6 602.9 781.6 602.2 781.7 601.5 781.7 600.8 781.7 600.1 781.7 599.4 781.8 598.7 781.8 598 781.8 597.3 781.8 596.6 781.9 595.9 781.9 595.2 781.9 594.4 782 593.7 782 593 782 592.3 782 591.6 782.1 590.9 782.1 590.2 782.1 589.5 782.1 588.8 782.2 588.1 782.2 587.4 782.2 586.7 782.3 586 782.3 585.3 782.3 584.6 782.3 583.9 782.4 583.2 782.4 582.5 782.4 581.8 782.4 581.1 782.5 580.4 782.5 579.7 782.5 578.9 782.6 578.2 782.6 577.5 782.6 576.8 782.6 576.1 782.7 575.4 782.7 574.7 782.7 574 782.7 573.3 782.8 572.6 782.8 571.9 782.8 571.2 782.8 570.5 782.9 569.8 782.9 569.1 782.9 568.4 782.9 567.7 783 567 783 566.3 783 565.6 783 564.9 783.1 564.2 783.1 563.5 783.1 562.8 783.1 562.1 783.2 561.4 783.2 560.7 783.2 560 783.2 559.3 783.3 558.6 783.3 557.9 783.3 557.2 783.3 556.5 783.4 555.8 783.4 555.1 783.4 554.4 783.4 553.7 783.4 553 783.5 552.3 783.5 551.6 783.5 550.9 783.5 550.2 783.6 549.5 783.6 548.8 783.6 548.1 783.6 547.4 783.6 546.7 783.7 546 783.7 545.3 783.7 544.6" stroke="#000" stroke-width="2.7" stroke-linecap="round" stroke-dasharray="0.01 15.89" stroke-dashoffset="5.52"/>
<path d="M452.3 761.5 453 761.5 453.7 761.4 454.4 761.4 455.1 761.4 455.8 761.4 456.5 761.4 457.2 761.3 457.9 761.3 458.6 761.3 459.3 761.3 460 761.3 460.7 761.2 461.4 761.2 462.1 761.2 462.8 761.2 463.6 761.2 464.3 761.2 465 761.2 465.7 761.2 466.4 761.2 467.1 761.2 467.8 761.2 468.5 761.2 469.2 761.2 469.9 761.2 470.6 761.2 471.3 761.2 472 761.2 472.7 761.2 473.4 761.2 474.1 761.2 474.8 761.3 475.5 761.3 476.2 761.3 476.9 761.3 477.6 761.3 478.3 761.3 479 761.3 479.7 761.4 480.4 761.4 481.1 761.4 481.8 761.4 482.5 761.5 483.2 761.5 483.9 761.5 484.6 761.5 485.3 761.6 486 761.6 486.7 761.6 487.4 761.6 488.1 761.7 488.8 761.7 489.5 761.7 490.2 761.8 491 761.8 491.7 761.8 492.4 761.9 493.1 761.9 493.8 761.9 494.5 762 495.2 762 495.9 762.1 496.6 762.1 497.3 762.1 498 762.2 498.7 762.2 499.4 762.3 500.1 762.3 500.8 762.4 501.5 762.4 502.2 762.4 502.9 762.5 503.6 762.5 504.3 762.6 505 762.6 505.7 762.7 506.4 762.7 507.1 762.8 507.8 762.8 508.5 762.9 509.2 762.9 509.9 763 510.6 763 511.3 763.1 512 763.1 512.7 763.2 513.4 763.2 514.1 763.3 514.8 763.3 515.5 763.4 516.2 763.4 516.9 763.5 517.6 763.6 518.3 763.6 519 763.7 519.7 763.7 520.4 763.8 521.1 763.8 521.8 763.9 522.5 763.9 523.2 764 523.9 764 524.6 764.1 525.3 764.2 526 764.2 526.7 764.3 527.4 764.3 528.1 764.4 528.8 764.4 529.5 764.5 530.2 764.6 530.9 764.6 531.6 764.7 532.3 764.7 533 764.8 533.7 764.8 534.4 764.9 535.1 765 535.8 765 536.5 765.1 537.2 765.1 537.9 765.2 538.6 765.2 539.3 765.3 540 765.3 540.7 765.4 541.4 765.5 542 765.5 542.7 765.6 543.4 765.6 544.1 765.7 544.8 765.7 545.5 765.8 546.2 765.8 546.9 765.9 547.6 765.9 548.3 766 549 766 549.7 766.1 550.4 766.1 551.1 766.2 551.8 766.2 552.5 766.3 553.2 766.3 553.9 766.4 554.6 766.4 555.3 766.5 556 766.5 556.7 766.6 557.4 766.6 558.1 766.7 558.8 766.7 559.5 766.8 560.2 766.8 560.9 766.8 561.6 766.9 562.3 766.9 563 767 563.7 767 564.4 767.1 565.1 767.1 565.8 767.1 566.5 767.2 567.2 767.2 567.9 767.2 568.6 767.3 569.3 767.3 569.9 767.3 570.6 767.4 571.3 767.4 572 767.4 572.7 767.5 573.4 767.5 574.1 767.5 574.8 767.6 575.5 767.6 576.2 767.6 576.9 767.6 577.6 767.7 578.3 767.7 579 767.7 579.7 767.7 580.4 767.8 581.1 767.8 581.8 767.8 582.5 767.8 583.2 767.8 583.9 767.8 584.6 767.9 585.3 767.9 586 767.9 586.7 767.9 587.3 767.9 588 767.9 588.7 767.9 589.4 767.9 590.1 767.9 590.8 767.9 591.5 767.9 592.2 767.9 592.9 767.9 593.6 767.9 594.3 767.9 595 767.9 595.7 767.9 596.4 767.9 597.1 767.9 597.8 767.9 598.5 767.9 599.2 767.9 599.9 767.9 600.6 767.8 601.2 767.8 601.9 767.8 602.6 767.8 603.3 767.8 604 767.8 604.7 767.7 605.4 767.7 606.1 767.7 606.8 767.7 607.5 767.7 608.2 767.7 608.9 767.7 609.6 767.7 610.3 767.7 611 767.7 611.7 767.7 612.4 767.6 613.1 767.6 613.7 767.6 614.4 767.5 615.1 767.5 615.8 767.5 616.5 767.4 617.2 767.4 617.9 767.3 618.6 767.3 619.3 767.2 620 767.1 620.7 767.1 621.4 767 622.1 767 622.8 766.9 623.5 766.8 624.2 766.8 624.8 766.7 625.5 766.6 626.2 766.6 626.9 766.5 627.6 766.4 628.3 766.3 629 766.2 629.7 766.2 630.4 766.1 631.1 766 631.8 765.9 632.5 765.8 633.2 765.7 633.9 765.6 634.5 765.5 635.2 765.4 635.9 765.3 636.6 765.2 637.3 765.1 638 765 638.7 764.9 639.4 764.8 640.1 764.7 640.8 764.6 641.5 764.5 642.2 764.3 642.9 764.2 643.5 764.1 644.2 764 644.9 763.9 645.6 763.7 646.3 763.6 647 763.5 647.7 763.4 648.4 763.2 649.1 763.1 649.8 763 650.5 762.8 651.2 762.7 651.9 762.6 652.5 762.4 653.2 762.3 653.9 762.1 654.6 762 655.3 761.8 656 761.7 656.7 761.5 657.4 761.4 658.1 761.2 658.8 761.1 659.5 760.9 660.1 760.8 660.8 760.6 661.5 760.5 662.2 760.3 662.9 760.1 663.6 760 664.3 759.8 665 759.7 665.7 759.5 666.4 759.3 667.1 759.2 667.8 759 668.4 758.9 669.1 758.7 669.8 758.5 670.5 758.4 671.2 758.2 671.9 758 672.6 757.9 673.3 757.7 674 757.5 674.7 757.4 675.3 757.2 676 757 676.7 756.9 677.4 756.7 678.1 756.5 678.8 756.4 679.5 756.2 680.2 756 680.9 755.9 681.6 755.7 682.2 755.5 682.9 755.4 683.6 755.2 684.3 755 685 754.9 685.7 754.7 686.4 754.5 687.1 754.4 687.8 754.2 688.5 754.1 689.1 753.9 689.8 753.7 690.5 753.5 691.2 753.4 691.9 753.2 692.6 753 693.3 752.8 694 752.7 694.7 752.5 695.4 752.3 696 752.1 696.7 752 697.4 751.8 698.1 751.6 698.8 751.4 699.5 751.3 700.2 751.1 700.9 750.9 701.6 750.7 702.2 750.6 702.9 750.4 703.6 750.2 704.3 750.1 705 749.9 705.7 749.7 706.4 749.6 707.1 749.4 707.8 749.3 708.4 749.1 709.1 748.9 709.8 748.8 710.5 748.6 711.2 748.5 711.9 748.3 712.6 748.2 713.3 748 713.9 747.8 714.6 747.7 715.3 747.5 716 747.4 716.7 747.2 717.4 747.1 718.1 747 718.7 746.9 719.4 746.7 720.1 746.6 720.8 746.5 721.5 746.3 722.2 746.2 722.8 746 723.5 745.9 724.2 745.8 724.9 745.6 725.5 745.5 726.2 745.3 726.9 745.2 727.6 745 728.3 744.9 728.9 744.7 729.6 744.6 730.3 744.4 730.9 744.2 731.6 744.1 732.3 743.9 732.9 743.7 733.6 743.6 734.3 743.4 734.9 743.2 735.6 743 736.3 742.8 736.9 742.6 737.6 742.4 738.2 742.2 738.9 742 739.5 741.8 740.2 741.6 740.8 741.4 741.5 741.1 742.1 740.9 742.8 740.7 743.4 740.4 744.1 740.2 744.7 739.9 745.3 739.7 746 739.5 746.6 739.2 747.2 739 747.9 738.7 748.5 738.5 749.1 738.2 749.7 737.9 750.3 737.7 750.9 737.4 751.5 737.1 752.1 736.8 752.7 736.5 753.3 736.2 753.9 735.8 754.5 735.5 755.1 735.2 755.6 734.8 756.2 734.4 756.8 734.1 757.3 733.7 757.9 733.3 758.4 732.9 758.9 732.5 759.5 732.1 760 731.6 760.5 731.2 761 730.7 761.5 730.3 762 729.8 762.5 729.4 763 728.9 763.4 728.4 763.9 727.9 764.4 727.4 764.8 726.9 765.2 726.4 765.7 725.9 766.1 725.4 766.5 724.8 766.9 724.2 767.3 723.6 767.7 723 768 722.5 768.4 721.9 768.8 721.3 769.1 720.6 769.4 720 769.8 719.4 770.1 718.8 770.4 718.2 770.7 717.5 771 716.9 771.2 716.2 771.5 715.6 771.8 714.9 772 714.3 772.3 713.6 772.5 713 772.7 712.3 773 711.6 773.2 711 773.4 710.3 773.6 709.6 773.8 708.9 774 708.2 774.2 707.5 774.4 706.8 774.5 706.2 774.7 705.5 774.9 704.8 775 704.1 775.2 703.3 775.3 702.6 775.5 701.9 775.6 701.2 775.7 700.5 775.9 699.8 776 699 776.1 698.3 776.2 697.6 776.3 696.9 776.5 696.1 776.6 695.4 776.7 694.7 776.8 694 776.9 693.2 777 692.5 777.1 691.8 777.2 691.1 777.3 690.3 777.4 689.6 777.4 688.9 777.5 688.1 777.6 687.4 777.7 686.7 777.8 686 777.9 685.2 778 684.5 778.1 683.8 778.1 683.1 778.2 682.4 778.3 681.6 778.4 680.9 778.5 680.2 778.5 679.5 778.6 678.7 778.7 678 778.8 677.3 778.8 676.6 778.9 675.9 779 675.2 779.1 674.4 779.1 673.7 779.2 673 779.3 672.3 779.3 671.6 779.4 670.9 779.5 670.1 779.5 669.4 779.6 668.7 779.7 668 779.7 667.3 779.8 666.6 779.9 665.9 779.9 665.2 780 664.4 780 663.7 780.1 663 780.1 662.3 780.2 661.6 780.3 660.9 780.3 660.2 780.4 659.5 780.4 658.8 780.5 658.1 780.5 657.4 780.6 656.7 780.6 656 780.7 655.3 780.7 654.6 780.8 653.9 780.8 653.2 780.9 652.5 780.9 651.8 781 651.1 781 650.4 781.1 649.7 781.1 649 781.2 648.3 781.2 647.6 781.2 646.9 781.3 646.2 781.3 645.5 781.4 644.8 781.4 644.1 781.4 643.4 781.5 642.7 781.5 642 781.6 641.3 781.6 640.6 781.6 639.9 781.7 639.2 781.7 638.5 781.7 637.8 781.8 637.1 781.8 636.4 781.9 635.8 781.9 635.1 781.9 634.4 781.9 633.7 782 633 782 632.3 782 631.6 782.1 630.9 782.1 630.2 782.1 629.5 782.2 628.8 782.2 628.1 782.2 627.4 782.2 626.7 782.3 626 782.3 625.3 782.3 624.7 782.4 624 782.4 623.3 782.4 622.6 782.4 621.9 782.5 621.2 782.5 620.5 782.5 619.8 782.5 619.1 782.5 618.4 782.6 617.7 782.6 617 782.6 616.3 782.6 615.7 782.7 615 782.7 614.3 782.7 613.6 782.7 612.9 782.7 612.2 782.8 611.5 782.8 610.8 782.8 610.1 782.8 609.4 782.8 608.7 782.9 608 782.9 607.4 782.9 606.7 782.9 606 782.9 605.3 782.9 604.6 783 603.9 783 603.2 783 602.5 783 601.8 783 601.1 783 600.4 783.1 599.8 783.1 599.1 783.1 598.4 783.1 597.7 783.1 597 783.1 596.3 783.1 595.6 783.2 594.9 783.2 594.2 783.2 593.5 783.2 592.8 783.2 592.2 783.2 591.5 783.2 590.8 783.3 590.1 783.3 589.4 783.3 588.7 783.3 588 783.3 587.3 783.3 586.6 783.3 585.9 783.3 585.2 783.4 584.5 783.4 583.9 783.4 583.2 783.4 582.5 783.4 581.8 783.4 581.1 783.4 580.4 783.5 579.7 783.5 579 783.5 578.3 783.5 577.6 783.5 576.9 783.5 576.2 783.5 575.5 783.5 574.8 783.6 574.1 783.6 573.5 783.6 572.8 783.6 572.1 783.6 571.4 783.6 570.7 783.6 570 783.7 569.3 783.7 568.6 783.7 567.9 783.7 567.2 783.7 566.5 783.7 565.8 783.7 565.1 783.7 564.4 783.8 563.7 783.8 563 783.8 562.3 783.8 561.6 783.8 560.9 783.8 560.2 783.9 559.5 783.9 558.8 783.9 558.1 783.9 557.4 783.9 556.7 783.9 556 784 555.3 784 554.6 784 553.9 784 553.2 784 552.5 784 551.8 784.1 551.1 784.1 550.4 784.1 549.7 784.1 549 784.1 548.3 784.2 547.6 784.2 546.9 784.2 546.2 784.2 545.5 784.2 544.8 784.3 544.1 784.3 543.4 784.3 542.7 784.3 542 784.3 541.3 784.4 540.6 784.4 539.9 784.4 539.2 784.4 538.5 784.5 537.8 784.5 537.1 784.5 536.4 784.5 535.7 784.6 534.9 784.6 534.2 784.6 533.5 784.6 532.8 784.7 532.1 784.7 531.4 784.7 530.7 784.8 530 784.8 529.3 784.8 528.6 784.8 527.8 784.9 527.1 784.9 526.4 784.9 525.7 785 525 785 524.3 785 523.6 785.1 522.9 785.1 522.1 785.1 521.4 785.2 520.7 785.2 520" stroke="#1c981c" stroke-width="3.3" stroke-linecap="round" stroke-dasharray="0.01 8.74" stroke-dashoffset="4.52"/>
<path d="M452.3 759 453 759 453.7 759 454.4 758.9 455.1 758.9 455.8 758.9 456.5 758.9 457.1 758.9 457.8 758.9 458.5 758.9 459.2 758.9 459.9 758.9 460.6 758.9 461.3 758.9 462 758.9 462.7 758.9 463.4 758.9 464.1 758.9 464.8 759 465.5 759 466.2 759 466.9 759 467.5 759.1 468.2 759.1 468.9 759.1 469.6 759.1 470.3 759.2 471 759.2 471.7 759.2 472.4 759.3 473.1 759.3 473.8 759.4 474.5 759.4 475.2 759.5 475.9 759.5 476.6 759.6 477.3 759.6 478 759.7 478.7 759.7 479.4 759.8 480.1 759.8 480.8 759.9 481.4 760 482.1 760 482.8 760.1 483.5 760.2 484.2 760.2 484.9 760.3 485.6 760.4 486.3 760.4 487 760.5 487.7 760.6 488.4 760.7 489.1 760.7 489.8 760.8 490.5 760.9 491.2 761 491.9 761.1 492.6 761.1 493.3 761.2 494 761.3 494.7 761.4 495.4 761.5 496.1 761.6 496.8 761.7 497.5 761.8 498.2 761.9 498.9 762 499.6 762.1 500.3 762.2 501 762.3 501.7 762.4 502.4 762.5 503.1 762.6 503.8 762.7 504.4 762.8 505.1 762.9 505.8 763 506.5 763.1 507.2 763.2 507.9 763.3 508.6 763.4 509.3 763.5 510 763.6 510.7 763.8 511.4 763.9 512.1 764 512.8 764.1 513.5 764.2 514.2 764.3 514.9 764.4 515.6 764.6 516.3 764.7 517 764.8 517.7 764.9 518.4 765 519.1 765.1 519.8 765.3 520.5 765.4 521.2 765.5 521.9 765.6 522.6 765.7 523.3 765.9 524 766 524.7 766.1 525.4 766.2 526.1 766.4 526.8 766.5 527.5 766.6 528.2 766.7 528.9 766.9 529.6 767 530.3 767.1 531 767.2 531.7 767.4 532.4 767.5 533.1 767.6 533.8 767.7 534.5 767.9 535.2 768 535.9 768.1 536.6 768.2 537.3 768.4 538 768.5 538.7 768.6 539.4 768.7 540.1 768.9 540.8 769 541.4 769.1 542.1 769.2 542.8 769.4 543.5 769.5 544.2 769.6 544.9 769.7 545.6 769.8 546.3 770 547 770.1 547.7 770.2 548.4 770.3 549.1 770.4 549.8 770.6 550.5 770.7 551.2 770.8 551.9 770.9 552.6 771 553.3 771.1 554 771.2 554.7 771.3 555.4 771.5 556.1 771.6 556.8 771.7 557.5 771.8 558.2 771.9 558.9 772 559.6 772.1 560.3 772.2 560.9 772.3 561.6 772.4 562.3 772.5 563 772.6 563.7 772.7 564.4 772.7 565.1 772.8 565.8 772.9 566.5 773 567.2 773.1 567.9 773.2 568.6 773.2 569.3 773.3 570 773.4 570.7 773.5 571.3 773.5 572 773.6 572.7 773.7 573.4 773.7 574.1 773.8 574.8 773.9 575.5 773.9 576.2 774 576.9 774 577.6 774.1 578.3 774.1 578.9 774.2 579.6 774.2 580.3 774.2 581 774.3 581.7 774.3 582.4 774.3 583.1 774.4 583.8 774.4 584.5 774.4 585.1 774.4 585.8 774.4 586.5 774.5 587.2 774.5 587.9 774.5 588.6 774.5 589.3 774.5 589.9 774.5 590.6 774.5 591.3 774.5 592 774.5 592.7 774.6 593.4 774.6 594.1 774.6 594.7 774.6 595.4 774.6 596.1 774.6 596.8 774.6 597.5 774.6 598.2 774.6 598.8 774.5 599.5 774.5 600.2 774.5 600.9 774.5 601.6 774.4 602.2 774.4 602.9 774.4 603.6 774.3 604.3 774.3 605 774.2 605.6 774.2 606.3 774.1 607 774.1 607.7 774 608.3 773.9 609 773.9 609.7 773.8 610.4 773.8 611 773.7 611.7 773.6 612.4 773.5 613.1 773.4 613.7 773.3 614.4 773.2 615.1 773.1 615.8 773 616.4 772.9 617.1 772.7 617.8 772.6 618.5 772.5 619.1 772.3 619.8 772.2 620.5 772.1 621.1 771.9 621.8 771.8 622.5 771.6 623.2 771.5 623.8 771.3 624.5 771.2 625.2 771 625.8 770.8 626.5 770.7 627.2 770.5 627.8 770.3 628.5 770.2 629.2 770 629.9 769.8 630.5 769.7 631.2 769.5 631.9 769.3 632.5 769.2 633.2 769 633.9 768.8 634.5 768.6 635.2 768.4 635.9 768.3 636.5 768.1 637.2 767.9 637.9 767.7 638.5 767.5 639.2 767.3 639.9 767.1 640.5 766.9 641.2 766.7 641.9 766.5 642.5 766.3 643.2 766.1 643.9 765.9 644.5 765.7 645.2 765.5 645.9 765.3 646.5 765 647.2 764.8 647.9 764.6 648.5 764.4 649.2 764.2 649.8 763.9 650.5 763.7 651.2 763.5 651.8 763.2 652.5 763 653.2 762.8 653.8 762.6 654.5 762.3 655.2 762.1 655.8 761.9 656.5 761.6 657.2 761.4 657.8 761.2 658.5 760.9 659.1 760.7 659.8 760.4 660.5 760.2 661.1 759.9 661.8 759.6 662.5 759.4 663.1 759.1 663.8 758.8 664.5 758.6 665.1 758.3 665.8 758.1 666.5 757.8 667.1 757.5 667.8 757.3 668.4 757 669.1 756.8 669.8 756.5 670.4 756.2 671.1 756 671.8 755.7 672.4 755.5 673.1 755.2 673.8 754.9 674.4 754.7 675.1 754.4 675.8 754.1 676.4 753.8 677.1 753.6 677.8 753.3 678.4 753 679.1 752.8 679.7 752.5 680.4 752.2 681.1 752 681.7 751.7 682.4 751.5 683.1 751.2 683.7 750.9 684.4 750.7 685.1 750.4 685.7 750.2 686.4 749.9 687.1 749.6 687.7 749.4 688.4 749.1 689.1 748.9 689.7 748.6 690.4 748.3 691.1 748.1 691.7 747.8 692.4 747.6 693.1 747.3 693.8 747.1 694.4 746.8 695.1 746.6 695.8 746.4 696.4 746.1 697.1 745.9 697.8 745.6 698.4 745.4 699.1 745.2 699.8 745 700.4 744.7 701.1 744.4 701.8 744.2 702.5 743.9 703.1 743.7 703.8 743.4 704.5 743.2 705.1 742.9 705.8 742.7 706.5 742.4 707.2 742.2 707.8 741.9 708.5 741.7 709.2 741.4 709.9 741.2 710.5 741 711.2 740.7 711.9 740.5 712.6 740.3 713.2 740.1 713.9 739.8 714.6 739.6 715.3 739.4 715.9 739.2 716.4 739.2 717.2 739.1 717.9 739 718.6 739 719.3 738.9 720 738.8 720.8 738.7 721.5 738.7 722.2 738.6 722.9 738.5 723.7 738.4 724.4 738.3 725.1 738.3 725.8 738.2 726.6 738.1 727.3 738 728 737.9 728.7 737.8 729.5 737.7 730.2 737.5 730.9 737.4 731.6 737.3 732.3 737.2 733.1 737.1 733.8 736.9 734.5 736.8 735.2 736.7 735.9 736.5 736.6 736.4 737.3 736.3 738 736.2 738.7 736.1 739.4 736 740.1 735.9 740.8 735.8 741.5 735.7 742.2 735.5 742.9 735.4 743.5 735.2 744.2 735.1 744.9 734.9 745.6 734.8 746.2 734.6 746.9 734.4 747.5 734.2 748.2 734 748.9 733.8 749.5 733.6 750.1 733.4 750.8 733.2 751.4 732.9 752 732.7 752.7 732.4 753.3 732.2 753.9 731.9 754.5 731.6 755.1 731.3 755.7 731 756.3 730.7 756.8 730.3 757.4 730 758 729.6 758.5 729.3 759 728.9 759.6 728.5" stroke="#0000ff" stroke-width="1.9" stroke-dasharray="8.2 7.7"/>
<path d="M452.3 773 453 772.9 453.7 772.9 454.4 772.8 455.1 772.8 455.8 772.7 456.5 772.7 457.2 772.6 457.9 772.6 458.6 772.6 459.3 772.6 460 772.5 460.7 772.5 461.4 772.5 462.1 772.5 462.7 772.5 463.4 772.5 464.1 772.5 464.8 772.5 465.5 772.4 466.2 772.4 466.9 772.4 467.6 772.5 468.3 772.5 469 772.5 469.7 772.5 470.4 772.5 471.1 772.6 471.8 772.6 472.5 772.6 473.2 772.7 473.9 772.7 474.5 772.8 475.2 772.8 475.9 772.9 476.6 772.9 477.3 773 478 773.1 478.7 773.1 479.4 773.2 480.1 773.3 480.8 773.4 481.5 773.5 482.2 773.6 482.9 773.6 483.6 773.7 484.2 773.8 484.9 773.9 485.6 774 486.3 774.1 487 774.3 487.7 774.4 488.4 774.5 489.1 774.6 489.8 774.7 490.5 774.8 491.2 774.9 491.9 775 492.5 775.1 493.2 775.2 493.9 775.3 494.6 775.4 495.3 775.6 496 775.7 496.7 775.8 497.4 775.9 498.1 776 498.8 776.1 499.4 776.3 500.1 776.4 500.8 776.5 501.5 776.7 502.2 776.8 502.9 777 503.6 777.1 504.3 777.3 505 777.4 505.7 777.6 506.3 777.7 507 777.9 507.7 778 508.4 778.2 509.1 778.3 509.8 778.5 510.5 778.6 511.2 778.8 511.9 779 512.6 779.1 513.2 779.3 513.9 779.4 514.6 779.6 515.3 779.8 516 779.9 516.7 780.1 517.4 780.3 518.1 780.4 518.8 780.6 519.4 780.7 520.1 780.9 520.8 781.1 521.5 781.3 522.2 781.4 522.9 781.6 523.6 781.8 524.3 781.9 525 782.1 525.6 782.3 526.3 782.4 527 782.6 527.7 782.8 528.4 782.9 529.1 783.1 529.8 783.3 530.5 783.4 531.2 783.6 531.8 783.8 532.5 783.9 533.2 784.1 533.9 784.3 534.6 784.4 535.3 784.6 536 784.8 536.7 784.9 537.4 785.1 538 785.2 538.7 785.4 539.4 785.5 540.1 785.7 540.8 785.8 541.5 786 542.2 786.1 542.9 786.3 543.6 786.4 544.2 786.5 544.9 786.7 545.6 786.8 546.3 786.9 547 787.1 547.7 787.2 548.4 787.3 549.1 787.4 549.8 787.6 550.4 787.7 551.1 787.8 551.8 787.9 552.5 788 553.2 788.1 553.9 788.2 554.6 788.3 555.3 788.4 556 788.5 556.6 788.6 557.3 788.7 558 788.8 558.7 788.8 559.4 788.9 560.1 789 560.8 789 561.5 789.1 562.2 789.2 562.9 789.2 563.5 789.3 564.2 789.3 564.9 789.4 565.6 789.4 566.3 789.4 567 789.5 567.7 789.5 568.4 789.5 569.1 789.6 569.7 789.6 570.4 789.6 571.1 789.6 571.8 789.6 572.5 789.6 573.2 789.6 573.9 789.6 574.6 789.6 575.3 789.6 575.9 789.6 576.6 789.6 577.3 789.6 578 789.6 578.7 789.5 579.4 789.5 580.1 789.5 580.8 789.4 581.4 789.4 582.1 789.4 582.8 789.3 583.5 789.3 584.2 789.2 584.9 789.2 585.6 789.1 586.3 789 586.9 789 587.6 788.9 588.3 788.8 589 788.8 589.7 788.7 590.4 788.6 591 788.5 591.7 788.4 592.4 788.3 593.1 788.2 593.8 788.1 594.5 788 595.1 787.9 595.8 787.8 596.5 787.7 597.2 787.6 597.9 787.5 598.5 787.3 599.2 787.2 599.9 787.1 600.6 786.9 601.3 786.8 601.9 786.7 602.6 786.6 603.3 786.4 604 786.3 604.6 786.2 605.3 786 606 785.9 606.7 785.7 607.4 785.6 608 785.4 608.7 785.3 609.4 785.1 610 785 610.7 784.8 611.4 784.6 612.1 784.5 612.7 784.3 613.4 784.1 614.1 783.9 614.7 783.7 615.4 783.5 616.1 783.4 616.8 783.2 617.4 783 618.1 782.8 618.8 782.7 619.4 782.5 620.1 782.3 620.8 782.1 621.4 781.9 622.1 781.7 622.7 781.5 623.4 781.3 624.1 781.1 624.7 780.9 625.4 780.7 626.1 780.5 626.7 780.2 627.4 780 628 779.8 628.7 779.5 629.3 779.3 630 779 630.7 778.8 631.3 778.5 632 778.3 632.6 778 633.3 777.7 633.9 777.5 634.6 777.2 635.2 776.9 635.9 776.7 636.5 776.4 637.2 776.1 637.8 775.8 638.5 775.5 639.1 775.2 639.8 774.9 640.4 774.6 641 774.3 641.7 774 642.3 773.7 643 773.4 643.6 773.1 644.3 772.8 644.9 772.5 645.5 772.2 646.2 771.8 646.8 771.5 647.4 771.2 648.1 770.9 648.7 770.5 649.3 770.2 650 769.9 650.6 769.5 651.2 769.2 651.9 768.9 652.5 768.5 653.1 768.2 653.7 767.9 654.4 767.5 655 767.2 655.6 766.8 656.2 766.5 656.9 766.2 657.5 765.8 658.1 765.5 658.7 765.2 659.3 764.8 660 764.5 660.6 764.1 661.2 763.8 661.8 763.5 662.4 763.1 663 762.8 663.6 762.5 664.3 762.1 664.9 761.8 665.5 761.4 666.1 761.1 666.7 760.8 667.3 760.4 667.9 760.1 668.5 759.8 669.1 759.4 669.7 759.1 670.3 758.7 670.9 758.4 671.6 758.1 672.2 757.7 672.8 757.4 673.4 757.1 674 756.8 674.6 756.4 675.2 756.1 675.8 755.8 676.4 755.4 677 755.1 677.6 754.7 678.2 754.4 678.8 754 679.5 753.7 680.1 753.4 680.7 753 681.3 752.7 681.9 752.4 682.5 752 683.1 751.7 683.8 751.4 684.4 751.1 685 750.8 685.6 750.4 686.2 750.1 686.9 749.9 687.5 749.6 688.1 749.3 688.7 749 689.4 748.8 690 748.5 690.6 748.2 691.3 748 691.9 747.7 692.5 747.4 693.2 747.2 693.8 746.9 694.5 746.7 695.1 746.5 695.8 746.2 696.4 746 697.1 745.7 697.7 745.4 698.4 745.2 699 744.9 699.7 744.7 700.4 744.4 701 744.2 701.7 744 702.4 743.7 703.1 743.5 703.8 743.3 704.4 743.1 705.1 742.8 705.8 742.6 706.5 742.4 707.2 742.2 707.9 742 708.6 741.8 709.3 741.6 710 741.4 710.7 741.2 711.4 741.1 712.1 740.9 712.8 740.7 713.6 740.5 714.3 740.3 715 740.2 715.7 740 716.4 739.8 717.2 739.7 717.9 739.5 718.6 739.4 719.3 739.2 720 739.1 720.8 738.9 721.5 738.8 722.2 738.6 722.9 738.5 723.7 738.3 724.4 738.2 725.1 738 725.8 737.9 726.6 737.8 727.3 737.7 728 737.6 728.7 737.5 729.5 737.4 730.2 737.2 730.9 737.1 731.6 737 732.3 736.9 733.1 736.8 733.8 736.6 734.5 736.5 735.2 736.4 735.9 736.2 736.6 736.1 737.3 736 738 735.9 738.7 735.8 739.4 735.7 740.1 735.6 740.8 735.5 741.5 735.4 742.2 735.2 742.9 735.1 743.5 734.9 744.2 734.8 744.9 734.6 745.6 734.5 746.2 734.3 746.9 734.1 747.5 733.9 748.2 733.7 748.9 733.5 749.5 733.3 750.1 733.1 750.8 732.9 751.4 732.6 752 732.4 752.7 732.1 753.3 731.9 753.9 731.6 754.5 731.3 755.1 731 755.7 730.7 756.3 730.4 756.8 730 757.4 729.7 758 729.3 758.5 729 759 728.6 759.6 728.2 760.1 727.8 760.6 727.3 761.1 726.9 761.6 726.5 762.1 726 762.5 725.5 763 725.1 763.4 724.6 763.9 724 764.3 723.5 764.7 723 765.1 722.4 765.4 721.8 765.8 721.3 766.2 720.7 766.5 720.1 766.8 719.5 767.1 718.9 767.5 718.3 767.8 717.7 768 717 768.3 716.4 768.6 715.8 768.9 715.1 769.1 714.5 769.4 713.8 769.6 713.2 769.9 712.5 770.1 711.8 770.4 711.2 770.6 710.5 770.8 709.9 771.1 709.2 771.3 708.6 771.5 707.9 771.7 707.2 771.9 706.6 772.2 705.9 772.4 705.2 772.6 704.6 772.8 703.9 773 703.2 773.1 702.6 773.3 701.9 773.5 701.2 773.7 700.6 773.9 699.9 774.1 699.2 774.2 698.6 774.4 697.9 774.6 697.2 774.7 696.6 774.9 695.9 775 695.2 775.2 694.5 775.3 693.9 775.5 693.2 775.6 692.5 775.7 691.8 775.9 691.2 776 690.5 776.1 689.8 776.3 689.1 776.4 688.5 776.5 687.8 776.6 687.1 776.8 686.4 776.9 685.7 777 685.1 777.1 684.4 777.2 683.7 777.3 683 777.4 682.3 777.5 681.6 777.6 680.9 777.7 680.2 777.8 679.6 777.9 678.9 777.9 678.2 778 677.5 778.1 676.8 778.2 676.1 778.3 675.4 778.3 674.7 778.4 674 778.5 673.3 778.6 672.7 778.6 672 778.7 671.3 778.8 670.6 778.8 669.9 778.9 669.2 778.9 668.5 779 667.8 779.1 667.1 779.1 666.4 779.2 665.7 779.2 665 779.3 664.3 779.3 663.6 779.4 662.9 779.4 662.2 779.5 661.6 779.5 660.9 779.5 660.2 779.6 659.5 779.6 658.8 779.7 658.1 779.7 657.4 779.7 656.7 779.8 656 779.8 655.3 779.8 654.6 779.9 653.9 779.9 653.2 779.9 652.5 780 651.8 780 651.1 780 650.4 780 649.7 780.1 649 780.1 648.3 780.1 647.6 780.1 646.9 780.2 646.2 780.2 645.5 780.2 644.8 780.2 644.1 780.3 643.4 780.3 642.7 780.3 642 780.3 641.3 780.3 640.6 780.4 639.9 780.4 639.2 780.4 638.5 780.4 637.8 780.4 637.1 780.5 636.4 780.5 635.7 780.5 635 780.5 634.3 780.5 633.6 780.6 632.9 780.6 632.2 780.6 631.5 780.6 630.8 780.7 630.1 780.7 629.4 780.7 628.7 780.7 628 780.7 627.3 780.8 626.6 780.8 625.9 780.8 625.1 780.8 624.4 780.9 623.7 780.9 623 780.9 622.3 780.9 621.6 781 620.9 781 620.2 781 619.5 781 618.8 781.1 618.1 781.1 617.4 781.1 616.7 781.1 616 781.2 615.3 781.2 614.6 781.2 613.9 781.2 613.2 781.3 612.5 781.3 611.8 781.3 611.1 781.3 610.4 781.4 609.7 781.4 608.9 781.4 608.2 781.4 607.5 781.5 606.8 781.5 606.1 781.5 605.4 781.5 604.7 781.6 604 781.6 603.3 781.6 602.6 781.7 601.9 781.7 601.2 781.7 600.5 781.7 599.8 781.8 599.1 781.8 598.4 781.8 597.7 781.8 597 781.9 596.3 781.9 595.6 781.9 594.8 782 594.1 782 593.4 782 592.7 782 592 782.1 591.3 782.1 590.6 782.1 589.9 782.1 589.2 782.2 588.5 782.2 587.8 782.2 587.1 782.3 586.4 782.3 585.7 782.3 585 782.3 584.3 782.4 583.6 782.4 582.9 782.4 582.2 782.4 581.5 782.5 580.8 782.5 580.1 782.5 579.3 782.6 578.6 782.6 577.9 782.6 577.2 782.6 576.5 782.7 575.8 782.7 575.1 782.7 574.4 782.7 573.7 782.8 573 782.8 572.3 782.8 571.6 782.8 570.9 782.9 570.2 782.9 569.5 782.9 568.8 782.9 568.1 783 567.4 783 566.7 783 566 783 565.3 783.1 564.6 783.1 563.9 783.1 563.2 783.1 562.5 783.2 561.8 783.2 561.1 783.2 560.4 783.2 559.7 783.3 559 783.3 558.3 783.3 557.6 783.3 556.9 783.4 556.2 783.4 555.5 783.4 554.8 783.4 554.1 783.4 553.4 783.5 552.7 783.5 552 783.5 551.3 783.5 550.6 783.6 549.9 783.6 549.2 783.6 548.5 783.6 547.8 783.6 547.1 783.7 546.4 783.7 545.7 783.7 545 783.7 544.3 783.7 543.6 783.8 542.9 783.8 542.2 783.8 541.5 783.8 540.8 783.8 540.1 783.8 539.4 783.9 538.7 783.9 538 783.9 537.3 783.9 536.6 783.9 535.9 783.9 535.2 784 534.5 784 533.8 784 533.1 784 532.5 784 531.8 784 531.1 784 530.4 784.1 529.7 784.1 529 784.1 528.3 784.1 527.6 784.1 526.9 784.1 526.2 784.1 525.5 784.1 524.8 784.1 524.1 784.2 523.5 784.2 522.8 784.2 522.1 784.2 521.4 784.2 520.7 784.2 520" stroke="#ff0000" stroke-width="1.95" stroke-linejoin="round"/>
</g>
<rect x="56.05" y="539.3" width="336.35" height="448.45" fill="none" stroke="#000" stroke-width="1.7"/>
<path d="M81.36 987.75 v-5.6 M81.36 539.3 v5.6 M96.17 987.75 v-5.6 M96.17 539.3 v5.6 M106.68 987.75 v-5.6 M106.68 539.3 v5.6 M114.82 987.75 v-5.6 M114.82 539.3 v5.6 M121.48 987.75 v-5.6 M121.48 539.3 v5.6 M127.11 987.75 v-5.6 M127.11 539.3 v5.6 M131.99 987.75 v-5.6 M131.99 539.3 v5.6 M136.29 987.75 v-5.6 M136.29 539.3 v5.6 M140.14 987.75 v-11.3 M140.14 539.3 v11.3 M165.45 987.75 v-5.6 M165.45 539.3 v5.6 M180.26 987.75 v-5.6 M180.26 539.3 v5.6 M190.76 987.75 v-5.6 M190.76 539.3 v5.6 M198.91 987.75 v-5.6 M198.91 539.3 v5.6 M205.57 987.75 v-5.6 M205.57 539.3 v5.6 M211.2 987.75 v-5.6 M211.2 539.3 v5.6 M216.08 987.75 v-5.6 M216.08 539.3 v5.6 M220.38 987.75 v-5.6 M220.38 539.3 v5.6 M224.22 987.75 v-11.3 M224.22 539.3 v11.3 M249.54 987.75 v-5.6 M249.54 539.3 v5.6 M264.34 987.75 v-5.6 M264.34 539.3 v5.6 M274.85 987.75 v-5.6 M274.85 539.3 v5.6 M283 987.75 v-5.6 M283 539.3 v5.6 M289.66 987.75 v-5.6 M289.66 539.3 v5.6 M295.29 987.75 v-5.6 M295.29 539.3 v5.6 M300.16 987.75 v-5.6 M300.16 539.3 v5.6 M304.46 987.75 v-5.6 M304.46 539.3 v5.6 M308.31 987.75 v-11.3 M308.31 539.3 v11.3 M333.63 987.75 v-5.6 M333.63 539.3 v5.6 M348.43 987.75 v-5.6 M348.43 539.3 v5.6 M358.94 987.75 v-5.6 M358.94 539.3 v5.6 M367.09 987.75 v-5.6 M367.09 539.3 v5.6 M373.75 987.75 v-5.6 M373.75 539.3 v5.6 M379.37 987.75 v-5.6 M379.37 539.3 v5.6 M384.25 987.75 v-5.6 M384.25 539.3 v5.6 M388.55 987.75 v-5.6 M388.55 539.3 v5.6 M56.05 567.33 h5.6 M392.4 567.33 h-5.6 M56.05 595.36 h5.6 M392.4 595.36 h-5.6 M56.05 623.38 h5.6 M392.4 623.38 h-5.6 M56.05 651.41 h11.3 M392.4 651.41 h-11.3 M56.05 679.44 h5.6 M392.4 679.44 h-5.6 M56.05 707.47 h5.6 M392.4 707.47 h-5.6 M56.05 735.5 h5.6 M392.4 735.5 h-5.6 M56.05 763.52 h11.3 M392.4 763.52 h-11.3 M56.05 791.55 h5.6 M392.4 791.55 h-5.6 M56.05 819.58 h5.6 M392.4 819.58 h-5.6 M56.05 847.61 h5.6 M392.4 847.61 h-5.6 M56.05 875.64 h11.3 M392.4 875.64 h-11.3 M56.05 903.67 h5.6 M392.4 903.67 h-5.6 M56.05 931.69 h5.6 M392.4 931.69 h-5.6 M56.05 959.72 h5.6 M392.4 959.72 h-5.6" stroke="#000" stroke-width="1.3" fill="none"/>
<rect x="452.3" y="539.3" width="336.35" height="448.45" fill="none" stroke="#000" stroke-width="1.7"/>
<path d="M477.61 987.75 v-5.6 M477.61 539.3 v5.6 M492.42 987.75 v-5.6 M492.42 539.3 v5.6 M502.93 987.75 v-5.6 M502.93 539.3 v5.6 M511.07 987.75 v-5.6 M511.07 539.3 v5.6 M517.73 987.75 v-5.6 M517.73 539.3 v5.6 M523.36 987.75 v-5.6 M523.36 539.3 v5.6 M528.24 987.75 v-5.6 M528.24 539.3 v5.6 M532.54 987.75 v-5.6 M532.54 539.3 v5.6 M536.39 987.75 v-11.3 M536.39 539.3 v11.3 M561.7 987.75 v-5.6 M561.7 539.3 v5.6 M576.51 987.75 v-5.6 M576.51 539.3 v5.6 M587.01 987.75 v-5.6 M587.01 539.3 v5.6 M595.16 987.75 v-5.6 M595.16 539.3 v5.6 M601.82 987.75 v-5.6 M601.82 539.3 v5.6 M607.45 987.75 v-5.6 M607.45 539.3 v5.6 M612.33 987.75 v-5.6 M612.33 539.3 v5.6 M616.63 987.75 v-5.6 M616.63 539.3 v5.6 M620.48 987.75 v-11.3 M620.48 539.3 v11.3 M645.79 987.75 v-5.6 M645.79 539.3 v5.6 M660.59 987.75 v-5.6 M660.59 539.3 v5.6 M671.1 987.75 v-5.6 M671.1 539.3 v5.6 M679.25 987.75 v-5.6 M679.25 539.3 v5.6 M685.91 987.75 v-5.6 M685.91 539.3 v5.6 M691.54 987.75 v-5.6 M691.54 539.3 v5.6 M696.41 987.75 v-5.6 M696.41 539.3 v5.6 M700.71 987.75 v-5.6 M700.71 539.3 v5.6 M704.56 987.75 v-11.3 M704.56 539.3 v11.3 M729.88 987.75 v-5.6 M729.88 539.3 v5.6 M744.68 987.75 v-5.6 M744.68 539.3 v5.6 M755.19 987.75 v-5.6 M755.19 539.3 v5.6 M763.34 987.75 v-5.6 M763.34 539.3 v5.6 M770 987.75 v-5.6 M770 539.3 v5.6 M775.62 987.75 v-5.6 M775.62 539.3 v5.6 M780.5 987.75 v-5.6 M780.5 539.3 v5.6 M784.8 987.75 v-5.6 M784.8 539.3 v5.6 M452.3 567.33 h5.6 M788.65 567.33 h-5.6 M452.3 595.36 h5.6 M788.65 595.36 h-5.6 M452.3 623.38 h5.6 M788.65 623.38 h-5.6 M452.3 651.41 h11.3 M788.65 651.41 h-11.3 M452.3 679.44 h5.6 M788.65 679.44 h-5.6 M452.3 707.47 h5.6 M788.65 707.47 h-5.6 M452.3 735.5 h5.6 M788.65 735.5 h-5.6 M452.3 763.52 h11.3 M788.65 763.52 h-11.3 M452.3 791.55 h5.6 M788.65 791.55 h-5.6 M452.3 819.58 h5.6 M788.65 819.58 h-5.6 M452.3 847.61 h5.6 M788.65 847.61 h-5.6 M452.3 875.64 h11.3 M788.65 875.64 h-11.3 M452.3 903.67 h5.6 M788.65 903.67 h-5.6 M452.3 931.69 h5.6 M788.65 931.69 h-5.6 M452.3 959.72 h5.6 M788.65 959.72 h-5.6" stroke="#000" stroke-width="1.3" fill="none"/>
<text transform="translate(21.16 546.3) scale(0.9750 1)" font-size="20.6">0.4</text>
<text transform="translate(21.95 658.41) scale(0.9750 1)" font-size="20.6">0.2</text>
<text transform="translate(36.67 770.52) scale(0.9750 1)" font-size="20.6">0</text>
<text transform="translate(15.26 882.64) scale(0.9750 1)" font-size="20.6">-0.2</text>
<text transform="translate(14.47 994.75) scale(0.9750 1)" font-size="20.6">-0.4</text>
<text transform="translate(417.86 546.3) scale(0.9750 1)" font-size="20.6">0.8</text>
<text transform="translate(417.41 658.41) scale(0.9750 1)" font-size="20.6">0.4</text>
<text transform="translate(432.92 770.52) scale(0.9750 1)" font-size="20.6">0</text>
<text transform="translate(410.72 882.64) scale(0.9750 1)" font-size="20.6">-0.4</text>
<text transform="translate(411.17 994.75) scale(0.9750 1)" font-size="20.6">-0.8</text>
<text transform="translate(40.09 1025.2) scale(0.9262 1)" font-size="21">10</text>
<text transform="translate(64.43 1011.6) scale(0.9653 1)" font-size="15.8">-4</text>
<text transform="translate(124.18 1025.2) scale(0.9262 1)" font-size="21">10</text>
<text transform="translate(148.5 1011.6) scale(0.9951 1)" font-size="15.8">-3</text>
<text transform="translate(208.27 1025.2) scale(0.9262 1)" font-size="21">10</text>
<text transform="translate(232.58 1011.6) scale(1.0168 1)" font-size="15.8">-2</text>
<text transform="translate(292.35 1025.2) scale(0.9262 1)" font-size="21">10</text>
<text transform="translate(316.66 1011.6) scale(1.0235 1)" font-size="15.8">-1</text>
<text transform="translate(388.28 1025.2) scale(0.7439 1)" font-size="21">1</text>
<text transform="translate(258.56 1039.4) scale(0.9502 1)" font-size="29">x</text>
<text transform="translate(436.34 1025.2) scale(0.9262 1)" font-size="21">10</text>
<text transform="translate(460.68 1011.6) scale(0.9653 1)" font-size="15.8">-4</text>
<text transform="translate(520.43 1025.2) scale(0.9262 1)" font-size="21">10</text>
<text transform="translate(544.75 1011.6) scale(0.9951 1)" font-size="15.8">-3</text>
<text transform="translate(604.52 1025.2) scale(0.9262 1)" font-size="21">10</text>
<text transform="translate(628.83 1011.6) scale(1.0168 1)" font-size="15.8">-2</text>
<text transform="translate(688.6 1025.2) scale(0.9262 1)" font-size="21">10</text>
<text transform="translate(712.91 1011.6) scale(1.0235 1)" font-size="15.8">-1</text>
<text transform="translate(784.53 1025.2) scale(0.7439 1)" font-size="21">1</text>
<text transform="translate(654.81 1039.4) scale(0.9502 1)" font-size="29">x</text>
<text transform="translate(224.67 616.6) scale(0.9071 1)" font-size="29">x</text>
<text transform="translate(238.4 616.6) scale(1.0827 1)" font-size="29">P</text>
<text transform="translate(254.83 601.6) scale(1.0153 1)" font-size="20">T</text>
<text transform="translate(253.18 621.8) scale(0.9585 1)" font-size="20">gq</text>
<text transform="translate(274.71 616.6) scale(1.0081 1)" font-size="28">(</text>
<text transform="translate(285.37 616.6) scale(0.9215 1)" font-size="29">x</text>
<text transform="translate(299.08 616.6) scale(1.0151 1)" font-size="28">)</text>
<text transform="translate(620.92 616.6) scale(0.9071 1)" font-size="29">x</text>
<text transform="translate(634.65 616.6) scale(1.0827 1)" font-size="29">P</text>
<text transform="translate(651.08 601.6) scale(1.0153 1)" font-size="20">T</text>
<text transform="translate(649.43 621.8) scale(0.9595 1)" font-size="20">gg</text>
<text transform="translate(670.96 616.6) scale(1.0081 1)" font-size="28">(</text>
<text transform="translate(681.62 616.6) scale(0.9215 1)" font-size="29">x</text>
<text transform="translate(695.33 616.6) scale(1.0151 1)" font-size="28">)</text>
<path d="M223.8 820 h14 M250.95 820 h13.8" stroke="#000" stroke-width="1.5" fill="none"/>
<g fill="#000"><circle cx="224.6" cy="856.3" r="1.25"/><circle cx="237.2" cy="856.3" r="1.25"/><circle cx="249.7" cy="856.3" r="1.25"/><circle cx="262.65" cy="856.3" r="1.25"/></g>
<path d="M223.8 892.7 H232.1 M239.7 892.7 H247.9 M255.75 892.7 H264.2" stroke="#000" stroke-width="1.5" fill="none"/>
<g fill="#000"><circle cx="235.9" cy="892.7" r="1.3"/><circle cx="251.6" cy="892.7" r="1.3"/></g>
<text transform="translate(278.97 826.6) scale(1.0568 1)" font-size="20.6">LO</text>
<text transform="translate(278.98 863.4) scale(1.0465 1)" font-size="20.6">NLO</text>
<text transform="translate(278.98 899.3) scale(1.0471 1)" font-size="20.6">NNLO</text>
<text transform="translate(199.2 956.3) scale(1.1803 1)" font-size="24.5">α</text>
<text transform="translate(213.67 964.3) scale(1.0031 1)" font-size="16.8">S</text>
<text transform="translate(228.33 956.4) scale(1.1119 1)" font-size="23">=</text>
<text transform="translate(248.49 956.4) scale(1.0372 1)" font-size="23">0.12,</text>
<text transform="translate(307.51 956.4) scale(1.0441 1)" font-size="23">N</text>
<text transform="translate(324.26 964.3) scale(1.2261 1)" font-size="17">f</text>
<text transform="translate(335.68 956.4) scale(1.1072 1)" font-size="23">=</text>
<text transform="translate(355.39 956.4) scale(0.9822 1)" font-size="23">5</text>
<g fill="#1c981c"><circle cx="582" cy="861.8" r="1.65"/><circle cx="590.72" cy="861.8" r="1.65"/><circle cx="599.44" cy="861.8" r="1.65"/><circle cx="608.16" cy="861.8" r="1.65"/><circle cx="616.88" cy="861.8" r="1.65"/></g>
<path d="M579.5 895.3 H588 M595.7 895.3 H603.8 M611.4 895.3 H619.9" stroke="#0000ff" stroke-width="1.9" fill="none"/>
<path d="M579.5 929 H620.1" stroke="#ff0000" stroke-width="2.1" fill="none"/>
<text transform="translate(634.88 868.9) scale(1.0491 1)" font-size="20.6">LO</text>
<text transform="translate(667.27 868.9) scale(1.1058 1)" font-size="20.6">+</text>
<text transform="translate(688.23 868.9) scale(1.0477 1)" font-size="20.6">LL</text>
<text transform="translate(634.9 901.8) scale(1.0172 1)" font-size="20.6">NLO</text>
<text transform="translate(682.67 901.8) scale(1.1058 1)" font-size="20.6">+</text>
<text transform="translate(698.78 901.8) scale(1.0468 1)" font-size="20.6">NLL</text>
<text transform="translate(634.89 936.1) scale(1.0291 1)" font-size="20.6">NNLO</text>
<text transform="translate(698.27 936.1) scale(1.1058 1)" font-size="20.6">+</text>
<text transform="translate(714.28 936.1) scale(1.0379 1)" font-size="20.6">NNLL</text>
</svg></body></html>
